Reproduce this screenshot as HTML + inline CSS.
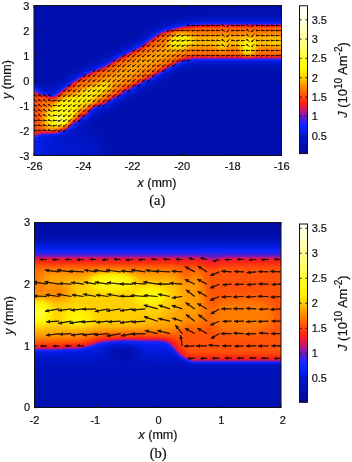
<!DOCTYPE html><html><head><meta charset="utf-8"><style>
html,body{margin:0;padding:0;background:#fff;}
svg{display:block;}
text{font-family:"Liberation Sans",sans-serif;fill:#111;stroke:#111;stroke-width:0.2px;}
.s{font-family:"Liberation Serif",serif;}
</style></head><body>
<svg width="352" height="462" viewBox="0 0 352 462">
<defs>
<filter id="cm" x="0" y="0" width="352" height="462" filterUnits="userSpaceOnUse" color-interpolation-filters="sRGB">
<feGaussianBlur stdDeviation="1.5"/>
<feComponentTransfer>
<feFuncR type="table" tableValues="0.0000 0.0000 0.0000 0.0000 0.0000 0.0000 0.0000 0.0000 0.0000 0.0000 0.0000 0.0000 0.0000 0.0000 0.0000 0.0000 0.0000 0.0000 0.0023 0.0055 0.0086 0.0118 0.0149 0.0181 0.0220 0.0267 0.0315 0.0362 0.0409 0.0456 0.0504 0.0551 0.0678 0.1112 0.1545 0.1978 0.2411 0.2858 0.3351 0.3845 0.4338 0.4832 0.5326 0.5847 0.6381 0.6916 0.7451 0.7937 0.8287 0.8636 0.8986 0.9336 0.9481 0.9569 0.9658 0.9746 0.9819 0.9861 0.9904 0.9946 0.9989 1.0000 1.0000 1.0000 1.0000 1.0000 1.0000 1.0000 1.0000 1.0000 1.0000 1.0000 1.0000 1.0000 1.0000 1.0000 1.0000 1.0000 1.0000 1.0000 1.0000 1.0000 1.0000 1.0000 1.0000 1.0000 1.0000 1.0000 1.0000 1.0000 1.0000 1.0000 1.0000 1.0000 1.0000 1.0000 1.0000 1.0000 1.0000 1.0000 1.0000 1.0000 1.0000 1.0000 1.0000 1.0000 1.0000 1.0000 1.0000 1.0000 1.0000 1.0000 1.0000 1.0000 1.0000 1.0000 1.0000 1.0000 1.0000 1.0000 1.0000 1.0000 1.0000 1.0000 1.0000 1.0000 1.0000 1.0000 1.0000 1.0000 1.0000 1.0000 1.0000 1.0000 1.0000 1.0000 1.0000 1.0000 1.0000 1.0000 1.0000 1.0000 1.0000 1.0000 1.0000 1.0000 1.0000 1.0000 1.0000 1.0000 1.0000 1.0000 1.0000 1.0000 1.0000 1.0000 1.0000 1.0000 1.0000 1.0000"/>
<feFuncG type="table" tableValues="0.0392 0.0421 0.0449 0.0478 0.0506 0.0534 0.0563 0.0591 0.0618 0.0644 0.0671 0.0697 0.0723 0.0750 0.0776 0.0803 0.0829 0.0856 0.0900 0.0950 0.1001 0.1051 0.1101 0.1152 0.1201 0.1248 0.1295 0.1342 0.1389 0.1437 0.1484 0.1531 0.1552 0.1473 0.1395 0.1316 0.1237 0.1168 0.1133 0.1098 0.1063 0.1027 0.0992 0.0980 0.0980 0.0980 0.0980 0.0980 0.0980 0.0980 0.0980 0.0980 0.1084 0.1217 0.1349 0.1482 0.1656 0.1912 0.2167 0.2423 0.2678 0.2908 0.3129 0.3349 0.3570 0.3791 0.4012 0.4232 0.4453 0.4674 0.4921 0.5173 0.5425 0.5677 0.5929 0.6181 0.6449 0.6727 0.7005 0.7283 0.7561 0.7839 0.8117 0.8352 0.8554 0.8756 0.8959 0.9161 0.9364 0.9452 0.9504 0.9557 0.9609 0.9662 0.9714 0.9767 0.9807 0.9820 0.9832 0.9844 0.9856 0.9868 0.9880 0.9892 0.9904 0.9916 0.9929 0.9941 0.9953 0.9965 0.9977 0.9989 1.0000 1.0000 1.0000 1.0000 1.0000 1.0000 1.0000 1.0000 1.0000 1.0000 1.0000 1.0000 1.0000 1.0000 1.0000 1.0000 1.0000 1.0000 1.0000 1.0000 1.0000 1.0000 1.0000 1.0000 1.0000 1.0000 1.0000 1.0000 1.0000 1.0000 1.0000 1.0000 1.0000 1.0000 1.0000 1.0000 1.0000 1.0000 1.0000 1.0000 1.0000 1.0000 1.0000 1.0000 1.0000 1.0000 1.0000 1.0000"/>
<feFuncB type="table" tableValues="0.5882 0.5996 0.6110 0.6224 0.6338 0.6452 0.6565 0.6679 0.6793 0.6906 0.7019 0.7133 0.7246 0.7359 0.7473 0.7586 0.7700 0.7813 0.8005 0.8226 0.8446 0.8666 0.8887 0.9107 0.9264 0.9358 0.9453 0.9547 0.9642 0.9736 0.9831 0.9925 0.9934 0.9619 0.9304 0.8990 0.8675 0.8359 0.8042 0.7724 0.7407 0.7090 0.6773 0.6310 0.5775 0.5241 0.4706 0.4174 0.3649 0.3124 0.2599 0.2074 0.1753 0.1488 0.1223 0.0958 0.0755 0.0670 0.0585 0.0500 0.0415 0.0360 0.0315 0.0271 0.0227 0.0183 0.0139 0.0095 0.0051 0.0006 0.0000 0.0000 0.0000 0.0000 0.0000 0.0000 0.0000 0.0000 0.0000 0.0000 0.0000 0.0000 0.0000 0.0000 0.0000 0.0000 0.0000 0.0000 0.0000 0.0048 0.0111 0.0174 0.0237 0.0300 0.0363 0.0426 0.0530 0.0734 0.0937 0.1141 0.1344 0.1548 0.1751 0.1955 0.2158 0.2362 0.2565 0.2769 0.2972 0.3176 0.3379 0.3583 0.3783 0.3951 0.4119 0.4287 0.4455 0.4622 0.4790 0.4958 0.5126 0.5294 0.5462 0.5630 0.5810 0.5991 0.6172 0.6353 0.6535 0.6716 0.6897 0.7078 0.7259 0.7440 0.7594 0.7747 0.7900 0.8052 0.8205 0.8358 0.8510 0.8663 0.8815 0.8968 0.9107 0.9166 0.9226 0.9286 0.9345 0.9405 0.9464 0.9524 0.9583 0.9643 0.9702 0.9762 0.9821 0.9881 0.9940 1.0000"/>
</feComponentTransfer>
</filter>
<filter id="b1" x="-10%" y="-10%" width="120%" height="120%" color-interpolation-filters="sRGB"><feGaussianBlur stdDeviation="1.4"/></filter>
<filter id="b3" x="-50%" y="-50%" width="200%" height="200%" color-interpolation-filters="sRGB"><feGaussianBlur stdDeviation="3"/></filter>
<filter id="b5" x="-50%" y="-50%" width="200%" height="200%" color-interpolation-filters="sRGB"><feGaussianBlur stdDeviation="5"/></filter>
<filter id="b8" x="-50%" y="-50%" width="200%" height="200%" color-interpolation-filters="sRGB"><feGaussianBlur stdDeviation="8"/></filter>
<filter id="ab" x="-20%" y="-20%" width="140%" height="140%"><feGaussianBlur stdDeviation="0.35"/></filter>
<filter id="tb" x="0" y="0" width="352" height="462" filterUnits="userSpaceOnUse"><feGaussianBlur stdDeviation="0.12"/></filter>
<filter id="gb" x="0" y="0" width="352" height="462" filterUnits="userSpaceOnUse" color-interpolation-filters="sRGB"><feGaussianBlur stdDeviation="0.3"/></filter>
<clipPath id="c1"><rect x="34" y="5.5" width="247.5" height="150"/></clipPath>
<clipPath id="c2"><rect x="34.5" y="222.5" width="246.5" height="185"/></clipPath>

<linearGradient id="g1" x1="0" y1="1" x2="0" y2="0"><stop offset="0.0000" stop-color="rgb(0,10,150)"/><stop offset="0.0433" stop-color="rgb(0,15,170)"/><stop offset="0.1086" stop-color="rgb(0,22,200)"/><stop offset="0.1477" stop-color="rgb(5,30,235)"/><stop offset="0.1999" stop-color="rgb(15,40,255)"/><stop offset="0.2313" stop-color="rgb(70,30,215)"/><stop offset="0.2662" stop-color="rgb(140,25,170)"/><stop offset="0.2939" stop-color="rgb(200,25,110)"/><stop offset="0.3221" stop-color="rgb(240,25,50)"/><stop offset="0.3500" stop-color="rgb(250,40,20)"/><stop offset="0.3790" stop-color="rgb(255,70,10)"/><stop offset="0.4349" stop-color="rgb(255,120,0)"/><stop offset="0.4740" stop-color="rgb(255,160,0)"/><stop offset="0.5184" stop-color="rgb(255,210,0)"/><stop offset="0.5549" stop-color="rgb(255,240,0)"/><stop offset="0.6019" stop-color="rgb(255,250,12)"/><stop offset="0.7037" stop-color="rgb(255,255,96)"/><stop offset="0.7742" stop-color="rgb(255,255,144)"/><stop offset="0.8369" stop-color="rgb(255,255,190)"/><stop offset="0.9047" stop-color="rgb(255,255,232)"/><stop offset="1.0000" stop-color="rgb(255,255,255)"/></linearGradient>
<linearGradient id="g2" x1="0" y1="1" x2="0" y2="0"><stop offset="0.0039" stop-color="rgb(0,10,150)"/><stop offset="0.0505" stop-color="rgb(0,15,170)"/><stop offset="0.1206" stop-color="rgb(0,22,200)"/><stop offset="0.1626" stop-color="rgb(5,30,235)"/><stop offset="0.2187" stop-color="rgb(15,40,255)"/><stop offset="0.2524" stop-color="rgb(70,30,215)"/><stop offset="0.2900" stop-color="rgb(140,25,170)"/><stop offset="0.3197" stop-color="rgb(200,25,110)"/><stop offset="0.3500" stop-color="rgb(240,25,50)"/><stop offset="0.3800" stop-color="rgb(250,40,20)"/><stop offset="0.4111" stop-color="rgb(255,70,10)"/><stop offset="0.4711" stop-color="rgb(255,120,0)"/><stop offset="0.5132" stop-color="rgb(255,160,0)"/><stop offset="0.5609" stop-color="rgb(255,210,0)"/><stop offset="0.6001" stop-color="rgb(255,240,0)"/><stop offset="0.6506" stop-color="rgb(255,250,12)"/><stop offset="0.7600" stop-color="rgb(255,255,96)"/><stop offset="0.8357" stop-color="rgb(255,255,144)"/><stop offset="0.9030" stop-color="rgb(255,255,190)"/><stop offset="0.9759" stop-color="rgb(255,255,232)"/><stop offset="1.0782" stop-color="rgb(255,255,255)"/></linearGradient>
</defs><g filter="url(#gb)"><rect x="0" y="0" width="352" height="462" fill="#fff"/>
<clipPath id="bc1"><polygon points="20.0,93.0 34.0,93.0 41.0,94.5 45.5,94.5 49.0,96.0 53.5,96.8 57.0,94.5 60.5,91.5 68.0,86.0 75.5,80.3 83.0,76.0 90.5,72.2 98.0,69.0 105.5,66.0 113.0,61.0 120.5,56.8 130.0,52.0 140.5,46.8 150.0,40.0 160.5,32.5 170.0,29.5 180.5,26.8 190.0,25.2 200.0,24.4 215.0,24.0 300.0,23.9 300.0,59.0 195.0,59.0 185.0,60.0 174.5,64.8 170.5,67.2 167.0,68.5 160.5,73.0 155.0,75.5 150.0,79.0 145.0,80.8 140.5,83.8 135.0,86.2 130.0,89.5 125.0,91.5 120.5,95.3 116.0,97.0 113.0,99.5 108.0,101.5 105.5,104.2 98.0,106.0 93.0,108.0 90.5,110.5 87.7,114.0 85.5,117.5 82.0,116.0 80.5,119.0 76.4,122.5 74.1,121.5 68.5,128.5 62.0,131.5 56.5,133.5 50.0,134.0 43.5,134.0 34.0,134.5 20.0,134.5"/></clipPath>
<g clip-path="url(#c1)"><g filter="url(#cm)">
<rect x="20" y="-10" width="290" height="180" fill="rgb(13,13,13)"/>
<g filter="url(#b5)"><polygon points="20.0,93.0 34.0,93.0 41.0,94.5 45.5,94.5 49.0,96.0 53.5,96.8 57.0,94.5 60.5,91.5 68.0,86.0 75.5,80.3 83.0,76.0 90.5,72.2 98.0,69.0 105.5,66.0 113.0,61.0 120.5,56.8 130.0,52.0 140.5,46.8 150.0,40.0 160.5,32.5 170.0,29.5 180.5,26.8 190.0,25.2 200.0,24.4 215.0,24.0 300.0,23.9 300.0,59.0 195.0,59.0 185.0,60.0 174.5,64.8 170.5,67.2 167.0,68.5 160.5,73.0 155.0,75.5 150.0,79.0 145.0,80.8 140.5,83.8 135.0,86.2 130.0,89.5 125.0,91.5 120.5,95.3 116.0,97.0 113.0,99.5 108.0,101.5 105.5,104.2 98.0,106.0 93.0,108.0 90.5,110.5 87.7,114.0 85.5,117.5 82.0,116.0 80.5,119.0 76.4,122.5 74.1,121.5 68.5,128.5 62.0,131.5 56.5,133.5 50.0,134.0 43.5,134.0 34.0,134.5 20.0,134.5" fill="rgb(44,44,44)" stroke="rgb(44,44,44)" stroke-width="9"/>
</g><g filter="url(#b8)"><ellipse cx="62" cy="147" rx="42" ry="16" fill="rgb(31,31,31)"/><rect x="20" y="132" width="22" height="30" fill="rgb(44,44,44)"/></g>
<g clip-path="url(#bc1)"><polygon points="20.0,93.0 34.0,93.0 41.0,94.5 45.5,94.5 49.0,96.0 53.5,96.8 57.0,94.5 60.5,91.5 68.0,86.0 75.5,80.3 83.0,76.0 90.5,72.2 98.0,69.0 105.5,66.0 113.0,61.0 120.5,56.8 130.0,52.0 140.5,46.8 150.0,40.0 160.5,32.5 170.0,29.5 180.5,26.8 190.0,25.2 200.0,24.4 215.0,24.0 300.0,23.9 300.0,59.0 195.0,59.0 185.0,60.0 174.5,64.8 170.5,67.2 167.0,68.5 160.5,73.0 155.0,75.5 150.0,79.0 145.0,80.8 140.5,83.8 135.0,86.2 130.0,89.5 125.0,91.5 120.5,95.3 116.0,97.0 113.0,99.5 108.0,101.5 105.5,104.2 98.0,106.0 93.0,108.0 90.5,110.5 87.7,114.0 85.5,117.5 82.0,116.0 80.5,119.0 76.4,122.5 74.1,121.5 68.5,128.5 62.0,131.5 56.5,133.5 50.0,134.0 43.5,134.0 34.0,134.5 20.0,134.5" fill="rgb(107,107,107)" stroke="rgb(84,84,84)" stroke-width="6"/></g>
<g filter="url(#b3)">
<polyline points="44.0,116.0 62.0,111.0 80.0,100.0 100.0,88.0 125.0,74.0 150.0,60.0 175.0,47.0 190.0,41.5 210.0,41.0 300.0,41.0" fill="none" stroke="rgb(122,122,122)" stroke-width="14" stroke-linejoin="round"/>
<polyline points="180.0,43.0 195.0,42.0 210.0,42.0 300.0,42.0" fill="none" stroke="rgb(130,130,130)" stroke-width="8" stroke-linejoin="round"/>
<ellipse cx="60" cy="117" rx="17" ry="9" fill="rgb(157,157,157)" transform="rotate(-28 60 117)"/>
<ellipse cx="52" cy="123" rx="8" ry="5" fill="rgb(141,141,141)"/>
<ellipse cx="66" cy="108" rx="16" ry="9" fill="rgb(154,154,154)" transform="rotate(-32 66 108)"/>
<ellipse cx="86" cy="97" rx="14" ry="8" fill="rgb(144,144,144)" transform="rotate(-32 86 97)"/>
<ellipse cx="248" cy="47" rx="6" ry="8" fill="rgb(157,157,157)"/>
<ellipse cx="180" cy="41" rx="12" ry="7" fill="rgb(148,148,148)" transform="rotate(-12 180 41)"/>
<ellipse cx="222" cy="46" rx="5" ry="5" fill="rgb(138,138,138)"/>
<ellipse cx="275" cy="42" rx="8" ry="5" fill="rgb(134,134,134)"/>
<ellipse cx="100" cy="90" rx="12" ry="5" fill="rgb(144,144,144)" transform="rotate(-30 100 90)"/>
<rect x="20" y="90" width="18" height="46" fill="rgb(94,94,94)"/>
</g>
<ellipse cx="59.5" cy="119.5" rx="4" ry="2.5" fill="rgb(244,244,244)" filter="url(#b3)"/>
</g></g>
<g clip-path="url(#c1)"><g filter="url(#ab)" opacity="0.88"><path d="M36.9 96.3L33.5 94.7 M36.8 101.4L33.6 99.6 M36.9 106.3L33.5 104.7 M36.8 111.4L33.6 109.6 M36.8 116.4L33.6 114.6 M37.0 120.7L33.4 120.3 M37.0 125.7L33.4 125.3 M37.0 131.0L33.4 130.0 M41.8 96.3L38.5 94.7 M41.8 101.3L38.5 99.7 M41.7 106.6L38.6 104.4 M41.8 111.4L38.5 109.6 M41.7 116.5L38.6 114.5 M42.0 120.9L38.3 120.1 M41.9 125.9L38.4 125.1 M42.0 130.7L38.3 130.3 M46.7 96.4L43.5 94.6 M46.6 101.5L43.6 99.5 M46.7 106.4L43.5 104.6 M46.7 111.5L43.5 109.5 M46.7 116.4L43.5 114.6 M46.9 120.7L43.3 120.3 M46.9 126.0L43.3 125.0 M46.9 130.9L43.3 130.1 M51.4 96.1L48.7 94.9 M51.8 101.2L48.3 99.8 M51.6 106.5L48.5 104.5 M51.7 111.4L48.4 109.6 M51.6 116.5L48.5 114.5 M51.8 121.1L48.3 119.9 M51.8 126.0L48.3 125.0 M51.8 131.1L48.3 129.9 M56.8 100.2L53.2 100.8 M56.8 105.4L53.2 105.6 M56.8 110.2L53.2 110.8 M56.8 115.5L53.2 115.5 M56.8 120.4L53.2 120.6 M56.8 125.1L53.2 125.9 M56.8 130.1L53.2 130.9 M61.6 94.6L58.3 96.4 M61.7 99.9L58.2 101.1 M61.6 104.7L58.3 106.3 M61.7 109.8L58.2 111.2 M61.6 114.6L58.3 116.4 M61.6 119.7L58.3 121.3 M61.6 124.7L58.3 126.3 M61.6 129.7L58.3 131.3 M66.4 89.4L63.4 91.6 M66.4 94.4L63.4 96.6 M66.5 99.6L63.3 101.4 M66.4 104.5L63.4 106.5 M66.5 109.6L63.3 111.4 M66.5 114.5L63.3 116.5 M66.5 119.6L63.3 121.4 M66.4 124.5L63.4 126.5 M66.3 129.3L63.5 131.7 M71.1 84.7L68.6 86.3 M71.5 89.6L68.2 91.4 M71.4 94.6L68.3 96.4 M71.4 99.4L68.3 101.6 M71.4 104.5L68.3 106.5 M71.3 109.3L68.4 111.7 M71.4 114.5L68.3 116.5 M71.4 119.4L68.3 121.6 M71.3 124.3L68.4 126.7 M76.2 84.3L73.4 86.7 M76.4 89.5L73.2 91.5 M76.4 94.6L73.2 96.4 M76.2 99.3L73.4 101.7 M76.4 104.5L73.2 106.5 M76.3 109.4L73.3 111.6 M76.2 114.3L73.4 116.7 M76.2 119.3L73.4 121.7 M81.3 79.5L78.2 81.5 M81.3 84.6L78.2 86.4 M81.1 89.3L78.4 91.7 M81.3 94.5L78.2 96.5 M81.1 99.3L78.4 101.7 M81.3 104.5L78.2 106.5 M81.2 109.4L78.3 111.6 M81.3 114.6L78.2 116.4 M81.4 119.6L78.1 121.4 M85.9 74.6L83.5 76.4 M86.3 79.6L83.1 81.4 M86.1 84.3L83.3 86.7 M86.1 89.3L83.3 91.7 M86.2 94.4L83.2 96.6 M86.1 99.2L83.3 101.8 M86.1 104.3L83.3 106.7 M86.2 109.4L83.2 111.6 M86.2 114.5L83.2 116.5 M91.1 74.3L88.2 76.7 M91.0 79.3L88.3 81.7 M91.2 84.6L88.1 86.4 M91.1 89.3L88.2 91.7 M91.3 94.6L88.0 96.4 M91.2 99.6L88.1 101.4 M91.1 104.4L88.2 106.6 M91.1 109.4L88.2 111.6 M95.8 69.6L93.4 71.4 M96.1 74.5L93.1 76.5 M96.1 79.4L93.1 81.6 M96.1 84.4L93.1 86.6 M96.1 89.5L93.1 91.5 M96.2 94.6L93.0 96.4 M96.1 99.4L93.1 101.6 M96.1 104.4L93.1 106.6 M101.1 69.5L98.0 71.5 M101.0 74.3L98.1 76.7 M101.0 79.3L98.1 81.7 M101.2 84.6L97.9 86.4 M101.1 89.4L98.0 91.6 M101.1 94.4L98.0 96.6 M100.9 99.2L98.2 101.8 M101.0 104.4L98.1 106.6 M106.0 69.4L103.0 71.6 M105.9 74.2L103.1 76.8 M106.0 79.5L103.0 81.5 M106.0 84.5L103.0 86.5 M105.9 89.3L103.1 91.7 M106.0 94.5L103.0 96.5 M106.0 99.4L103.0 101.6 M105.8 104.7L103.2 106.3 M110.9 64.4L108.0 66.6 M111.0 69.5L107.9 71.5 M111.0 74.5L107.9 76.5 M110.8 79.2L108.1 81.8 M110.8 84.3L108.1 86.7 M111.0 89.5L107.9 91.5 M111.1 94.6L107.8 96.4 M110.9 99.3L108.0 101.7 M115.6 59.6L113.2 61.4 M115.9 64.4L112.9 66.6 M115.8 69.3L113.0 71.7 M115.9 74.4L112.9 76.6 M115.8 79.3L113.0 81.7 M115.9 84.4L112.9 86.6 M115.9 89.4L112.9 91.6 M115.8 94.3L113.0 96.7 M120.8 59.4L117.9 61.6 M120.9 64.5L117.8 66.5 M120.7 69.2L118.0 71.8 M120.9 74.4L117.8 76.6 M120.9 79.5L117.8 81.5 M120.8 84.3L117.9 86.7 M120.8 89.3L117.9 91.7 M120.9 94.5L117.8 96.5 M125.7 54.3L122.9 56.7 M125.7 59.3L122.9 61.7 M125.8 64.4L122.8 66.6 M125.8 69.5L122.8 71.5 M125.7 74.3L122.9 76.7 M125.7 79.3L122.9 81.7 M125.8 84.4L122.8 86.6 M125.9 89.5L122.7 91.5 M130.7 54.4L127.8 56.6 M130.8 59.5L127.7 61.5 M130.7 64.3L127.8 66.7 M130.7 69.4L127.8 71.6 M130.8 74.5L127.7 76.5 M130.8 79.6L127.7 81.4 M130.7 84.4L127.8 86.6 M130.4 89.5L128.1 91.5 M135.3 49.5L133.1 51.5 M135.7 54.4L132.7 56.6 M135.6 59.3L132.8 61.7 M135.8 64.5L132.6 66.5 M135.8 69.5L132.6 71.5 M135.6 74.3L132.8 76.7 M135.6 79.3L132.8 81.7 M135.8 84.5L132.6 86.5 M140.7 49.5L137.6 51.5 M140.7 54.5L137.6 56.5 M140.6 59.4L137.7 61.6 M140.5 64.3L137.8 66.7 M140.6 69.3L137.7 71.7 M140.7 74.5L137.6 76.5 M140.6 79.3L137.7 81.7 M140.3 84.6L138.0 86.4 M145.6 44.4L142.6 46.6 M145.6 49.4L142.6 51.6 M145.6 54.4L142.6 56.6 M145.7 59.6L142.5 61.4 M145.5 64.3L142.7 66.7 M145.5 69.2L142.7 71.8 M145.7 74.6L142.5 76.4 M145.7 79.6L142.5 81.4 M150.7 44.6L147.4 46.4 M150.5 49.4L147.6 51.6 M150.7 54.6L147.4 56.4 M150.7 59.6L147.4 61.4 M150.5 64.3L147.6 66.7 M150.6 69.5L147.5 71.5 M150.6 74.5L147.5 76.5 M150.3 79.7L147.8 81.3 M155.5 39.4L152.5 41.6 M155.4 44.3L152.6 46.7 M155.5 49.4L152.5 51.6 M155.4 54.3L152.6 56.7 M155.4 59.3L152.6 61.7 M155.5 64.4L152.5 66.6 M155.4 69.3L152.6 71.7 M155.6 74.5L152.4 76.5 M160.3 34.3L157.6 36.7 M160.5 39.6L157.4 41.4 M160.5 44.5L157.4 46.5 M160.6 49.6L157.3 51.4 M160.5 54.6L157.4 56.4 M160.5 59.6L157.4 61.4 M160.5 64.4L157.4 66.6 M160.3 69.2L157.6 71.8 M165.5 34.6L162.3 36.4 M165.3 39.3L162.5 41.7 M165.3 44.3L162.5 46.7 M165.4 49.5L162.4 51.5 M165.4 54.4L162.4 56.6 M165.4 59.4L162.4 61.6 M165.5 64.6L162.3 66.4 M165.4 69.5L162.4 71.5 M170.5 29.7L167.2 31.3 M170.5 34.6L167.2 36.4 M170.5 39.7L167.2 41.3 M170.4 44.5L167.3 46.5 M170.4 49.5L167.3 51.5 M170.3 54.4L167.4 56.6 M170.3 59.3L167.4 61.7 M170.4 64.4L167.3 66.6 M175.6 30.1L172.0 30.9 M175.5 34.7L172.1 36.3 M175.5 39.9L172.1 41.1 M175.5 44.8L172.1 46.2 M175.5 49.7L172.1 51.3 M175.4 54.6L172.2 56.4 M175.2 59.2L172.4 61.8 M175.3 64.5L172.3 66.5 M180.6 30.4L176.9 30.6 M180.5 34.9L177.0 36.1 M180.5 39.9L177.0 41.1 M180.4 44.8L177.1 46.2 M180.4 49.8L177.1 51.2 M180.4 54.6L177.1 56.4 M180.3 59.5L177.2 61.5 M185.5 30.5L181.9 30.5 M185.5 35.1L181.9 35.9 M185.5 40.0L181.9 41.0 M185.4 44.9L182.0 46.1 M185.4 49.8L182.0 51.2 M185.3 54.7L182.1 56.3 M185.5 59.9L181.9 61.1 M190.1 25.6L187.2 25.4 M190.2 30.3L187.1 30.7 M190.2 35.5L187.1 35.5 M190.2 40.3L187.1 40.7 M190.2 45.2L187.1 45.8 M190.2 50.1L187.1 50.9 M190.2 55.2L187.1 55.8 M190.1 60.1L187.2 60.9 M195.2 25.4L192.0 25.6 M195.2 30.4L192.0 30.6 M195.2 35.4L192.0 35.6 M195.2 40.4L192.0 40.6 M195.2 45.5L192.0 45.5 M195.2 50.5L192.0 50.5 M195.2 55.2L192.0 55.8 M200.1 25.3L197.0 25.7 M200.1 30.4L197.0 30.6 M200.1 35.5L197.0 35.5 M200.1 40.5L197.0 40.5 M200.1 45.6L197.0 45.4 M200.1 50.5L197.0 50.5 M200.1 55.6L197.0 55.4 M205.1 25.5L201.9 25.5 M205.1 30.5L201.9 30.5 M205.1 35.5L201.9 35.5 M205.1 40.5L201.9 40.5 M205.1 45.6L201.9 45.4 M205.1 50.5L201.9 50.5 M205.1 55.6L201.9 55.4 M210.0 25.5L206.9 25.5 M210.0 30.4L206.9 30.6 M210.0 35.5L206.9 35.5 M210.0 40.6L206.9 40.4 M210.0 45.3L206.9 45.7 M210.0 50.5L206.9 50.5 M210.0 55.5L206.9 55.5 M215.0 25.6L211.8 25.4 M215.0 30.7L211.8 30.3 M215.0 35.5L211.8 35.5 M215.0 40.7L211.8 40.3 M215.0 45.6L211.8 45.4 M215.0 50.4L211.8 50.6 M215.0 55.5L211.8 55.5 M219.9 25.4L216.8 25.6 M219.9 30.6L216.8 30.4 M219.9 35.6L216.8 35.4 M219.9 40.7L216.8 40.3 M219.9 45.6L216.8 45.4 M219.9 50.6L216.8 50.4 M219.9 55.6L216.8 55.4 M224.5 26.5L222.1 24.5 M224.6 31.4L222.0 29.6 M224.5 36.6L222.1 34.4 M224.6 41.4L222.0 39.6 M224.6 46.4L222.0 44.6 M224.9 50.6L221.7 50.4 M224.9 55.3L221.7 55.7 M229.4 24.4L227.1 26.6 M229.4 29.4L227.1 31.6 M229.6 34.6L226.9 36.4 M229.4 39.4L227.1 41.6 M229.3 44.3L227.2 46.7 M229.8 50.6L226.7 50.4 M229.8 55.4L226.7 55.6 M234.8 25.6L231.6 25.4 M234.8 30.6L231.6 30.4 M234.8 35.6L231.6 35.4 M234.8 40.7L231.6 40.3 M234.8 45.5L231.6 45.5 M234.8 50.6L231.6 50.4 M234.8 55.3L231.6 55.7 M239.7 25.6L236.6 25.4 M239.7 30.5L236.6 30.5 M239.7 35.6L236.6 35.4 M239.7 40.3L236.6 40.7 M239.7 45.6L236.6 45.4 M239.7 50.7L236.6 50.3 M239.7 55.3L236.6 55.7 M244.7 25.4L241.5 25.6 M244.7 30.5L241.5 30.5 M244.7 35.6L241.5 35.4 M244.7 40.4L241.5 40.6 M244.7 45.4L241.5 45.6 M244.7 50.4L241.5 50.6 M244.7 55.5L241.5 55.5 M249.2 26.6L246.9 24.4 M249.3 31.5L246.8 29.5 M249.3 36.5L246.8 34.5 M249.3 41.5L246.8 39.5 M249.3 46.5L246.8 44.5 M249.6 50.5L246.5 50.5 M249.6 55.3L246.5 55.7 M254.2 24.5L251.8 26.5 M254.3 29.6L251.7 31.4 M254.2 34.4L251.8 36.6 M254.3 39.5L251.7 41.5 M254.1 44.4L251.9 46.6 M254.6 50.6L251.4 50.4 M254.6 55.6L251.4 55.4 M259.5 25.6L256.4 25.4 M259.5 30.5L256.4 30.5 M259.5 35.5L256.4 35.5 M259.5 40.6L256.4 40.4 M259.5 45.7L256.4 45.3 M259.5 50.4L256.4 50.6 M259.5 55.3L256.4 55.7 M264.5 25.6L261.3 25.4 M264.5 30.7L261.3 30.3 M264.5 35.5L261.3 35.5 M264.5 40.5L261.3 40.5 M264.5 45.6L261.3 45.4 M264.5 50.4L261.3 50.6 M264.5 55.4L261.3 55.6 M269.4 25.4L266.3 25.6 M269.4 30.5L266.3 30.5 M269.4 35.4L266.3 35.6 M269.4 40.4L266.3 40.6 M269.4 45.6L266.3 45.4 M269.4 50.7L266.3 50.3 M269.4 55.4L266.3 55.6 M274.4 25.6L271.2 25.4 M274.4 30.5L271.2 30.5 M274.4 35.6L271.2 35.4 M274.4 40.5L271.2 40.5 M274.4 45.4L271.2 45.6 M274.4 50.4L271.2 50.6 M274.4 55.3L271.2 55.7 M279.3 25.5L276.2 25.5 M279.3 30.5L276.2 30.5 M279.3 35.4L276.2 35.6 M279.3 40.4L276.2 40.6 M279.3 45.4L276.2 45.6 M279.3 50.6L276.2 50.4 M279.3 55.4L276.2 55.6 M284.3 25.7L281.1 25.3 M284.3 30.5L281.1 30.5 M284.3 35.5L281.1 35.5 M284.3 40.5L281.1 40.5 M284.3 45.6L281.1 45.4 M284.3 50.6L281.1 50.4 M284.3 55.5L281.1 55.5 M39.3 137.5L39.5 138.1 M39.3 141.5L39.5 142.1 M39.3 145.5L39.5 146.1" stroke="#120606" stroke-width="0.95" stroke-linecap="round" fill="none"/><path d="M34.0 95.0m-0.9 0a0.9 0.9 0 1 0 1.8 0a0.9 0.9 0 1 0 -1.8 0 M34.1 99.9m-0.9 0a0.9 0.9 0 1 0 1.8 0a0.9 0.9 0 1 0 -1.8 0 M34.0 104.9m-0.9 0a0.9 0.9 0 1 0 1.8 0a0.9 0.9 0 1 0 -1.8 0 M34.1 109.9m-0.9 0a0.9 0.9 0 1 0 1.8 0a0.9 0.9 0 1 0 -1.8 0 M34.1 114.9m-0.9 0a0.9 0.9 0 1 0 1.8 0a0.9 0.9 0 1 0 -1.8 0 M33.9 120.4m-0.9 0a0.9 0.9 0 1 0 1.8 0a0.9 0.9 0 1 0 -1.8 0 M33.9 125.4m-0.9 0a0.9 0.9 0 1 0 1.8 0a0.9 0.9 0 1 0 -1.8 0 M34.0 130.1m-0.9 0a0.9 0.9 0 1 0 1.8 0a0.9 0.9 0 1 0 -1.8 0 M39.0 95.0m-0.9 0a0.9 0.9 0 1 0 1.8 0a0.9 0.9 0 1 0 -1.8 0 M39.0 100.0m-0.9 0a0.9 0.9 0 1 0 1.8 0a0.9 0.9 0 1 0 -1.8 0 M39.1 104.8m-0.9 0a0.9 0.9 0 1 0 1.8 0a0.9 0.9 0 1 0 -1.8 0 M39.0 109.9m-0.9 0a0.9 0.9 0 1 0 1.8 0a0.9 0.9 0 1 0 -1.8 0 M39.1 114.8m-0.9 0a0.9 0.9 0 1 0 1.8 0a0.9 0.9 0 1 0 -1.8 0 M38.9 120.2m-0.9 0a0.9 0.9 0 1 0 1.8 0a0.9 0.9 0 1 0 -1.8 0 M38.9 125.2m-0.9 0a0.9 0.9 0 1 0 1.8 0a0.9 0.9 0 1 0 -1.8 0 M38.9 130.3m-0.9 0a0.9 0.9 0 1 0 1.8 0a0.9 0.9 0 1 0 -1.8 0 M44.0 94.9m-0.9 0a0.9 0.9 0 1 0 1.8 0a0.9 0.9 0 1 0 -1.8 0 M44.0 99.8m-0.9 0a0.9 0.9 0 1 0 1.8 0a0.9 0.9 0 1 0 -1.8 0 M44.0 104.9m-0.9 0a0.9 0.9 0 1 0 1.8 0a0.9 0.9 0 1 0 -1.8 0 M44.0 109.8m-0.9 0a0.9 0.9 0 1 0 1.8 0a0.9 0.9 0 1 0 -1.8 0 M44.0 114.8m-0.9 0a0.9 0.9 0 1 0 1.8 0a0.9 0.9 0 1 0 -1.8 0 M43.8 120.4m-0.9 0a0.9 0.9 0 1 0 1.8 0a0.9 0.9 0 1 0 -1.8 0 M43.9 125.2m-0.9 0a0.9 0.9 0 1 0 1.8 0a0.9 0.9 0 1 0 -1.8 0 M43.8 130.2m-0.9 0a0.9 0.9 0 1 0 1.8 0a0.9 0.9 0 1 0 -1.8 0 M49.1 95.1m-0.9 0a0.9 0.9 0 1 0 1.8 0a0.9 0.9 0 1 0 -1.8 0 M48.8 100.0m-0.9 0a0.9 0.9 0 1 0 1.8 0a0.9 0.9 0 1 0 -1.8 0 M49.0 104.8m-0.9 0a0.9 0.9 0 1 0 1.8 0a0.9 0.9 0 1 0 -1.8 0 M48.9 109.9m-0.9 0a0.9 0.9 0 1 0 1.8 0a0.9 0.9 0 1 0 -1.8 0 M48.9 114.8m-0.9 0a0.9 0.9 0 1 0 1.8 0a0.9 0.9 0 1 0 -1.8 0 M48.8 120.1m-0.9 0a0.9 0.9 0 1 0 1.8 0a0.9 0.9 0 1 0 -1.8 0 M48.8 125.2m-0.9 0a0.9 0.9 0 1 0 1.8 0a0.9 0.9 0 1 0 -1.8 0 M48.8 130.1m-0.9 0a0.9 0.9 0 1 0 1.8 0a0.9 0.9 0 1 0 -1.8 0 M53.7 100.7m-0.9 0a0.9 0.9 0 1 0 1.8 0a0.9 0.9 0 1 0 -1.8 0 M53.7 105.6m-0.9 0a0.9 0.9 0 1 0 1.8 0a0.9 0.9 0 1 0 -1.8 0 M53.7 110.7m-0.9 0a0.9 0.9 0 1 0 1.8 0a0.9 0.9 0 1 0 -1.8 0 M53.7 115.5m-0.9 0a0.9 0.9 0 1 0 1.8 0a0.9 0.9 0 1 0 -1.8 0 M53.7 120.5m-0.9 0a0.9 0.9 0 1 0 1.8 0a0.9 0.9 0 1 0 -1.8 0 M53.7 125.8m-0.9 0a0.9 0.9 0 1 0 1.8 0a0.9 0.9 0 1 0 -1.8 0 M53.7 130.8m-0.9 0a0.9 0.9 0 1 0 1.8 0a0.9 0.9 0 1 0 -1.8 0 M58.8 96.1m-0.9 0a0.9 0.9 0 1 0 1.8 0a0.9 0.9 0 1 0 -1.8 0 M58.7 100.9m-0.9 0a0.9 0.9 0 1 0 1.8 0a0.9 0.9 0 1 0 -1.8 0 M58.8 106.1m-0.9 0a0.9 0.9 0 1 0 1.8 0a0.9 0.9 0 1 0 -1.8 0 M58.8 111.0m-0.9 0a0.9 0.9 0 1 0 1.8 0a0.9 0.9 0 1 0 -1.8 0 M58.8 116.1m-0.9 0a0.9 0.9 0 1 0 1.8 0a0.9 0.9 0 1 0 -1.8 0 M58.8 121.0m-0.9 0a0.9 0.9 0 1 0 1.8 0a0.9 0.9 0 1 0 -1.8 0 M58.8 126.1m-0.9 0a0.9 0.9 0 1 0 1.8 0a0.9 0.9 0 1 0 -1.8 0 M58.8 131.1m-0.9 0a0.9 0.9 0 1 0 1.8 0a0.9 0.9 0 1 0 -1.8 0 M63.8 91.2m-0.9 0a0.9 0.9 0 1 0 1.8 0a0.9 0.9 0 1 0 -1.8 0 M63.8 96.2m-0.9 0a0.9 0.9 0 1 0 1.8 0a0.9 0.9 0 1 0 -1.8 0 M63.8 101.2m-0.9 0a0.9 0.9 0 1 0 1.8 0a0.9 0.9 0 1 0 -1.8 0 M63.8 106.2m-0.9 0a0.9 0.9 0 1 0 1.8 0a0.9 0.9 0 1 0 -1.8 0 M63.8 111.1m-0.9 0a0.9 0.9 0 1 0 1.8 0a0.9 0.9 0 1 0 -1.8 0 M63.8 116.2m-0.9 0a0.9 0.9 0 1 0 1.8 0a0.9 0.9 0 1 0 -1.8 0 M63.8 121.1m-0.9 0a0.9 0.9 0 1 0 1.8 0a0.9 0.9 0 1 0 -1.8 0 M63.8 126.2m-0.9 0a0.9 0.9 0 1 0 1.8 0a0.9 0.9 0 1 0 -1.8 0 M63.9 131.3m-0.9 0a0.9 0.9 0 1 0 1.8 0a0.9 0.9 0 1 0 -1.8 0 M68.9 86.0m-0.9 0a0.9 0.9 0 1 0 1.8 0a0.9 0.9 0 1 0 -1.8 0 M68.7 91.1m-0.9 0a0.9 0.9 0 1 0 1.8 0a0.9 0.9 0 1 0 -1.8 0 M68.7 96.2m-0.9 0a0.9 0.9 0 1 0 1.8 0a0.9 0.9 0 1 0 -1.8 0 M68.8 101.2m-0.9 0a0.9 0.9 0 1 0 1.8 0a0.9 0.9 0 1 0 -1.8 0 M68.8 106.2m-0.9 0a0.9 0.9 0 1 0 1.8 0a0.9 0.9 0 1 0 -1.8 0 M68.9 111.3m-0.9 0a0.9 0.9 0 1 0 1.8 0a0.9 0.9 0 1 0 -1.8 0 M68.7 116.2m-0.9 0a0.9 0.9 0 1 0 1.8 0a0.9 0.9 0 1 0 -1.8 0 M68.8 121.2m-0.9 0a0.9 0.9 0 1 0 1.8 0a0.9 0.9 0 1 0 -1.8 0 M68.8 126.3m-0.9 0a0.9 0.9 0 1 0 1.8 0a0.9 0.9 0 1 0 -1.8 0 M73.8 86.4m-0.9 0a0.9 0.9 0 1 0 1.8 0a0.9 0.9 0 1 0 -1.8 0 M73.7 91.2m-0.9 0a0.9 0.9 0 1 0 1.8 0a0.9 0.9 0 1 0 -1.8 0 M73.7 96.1m-0.9 0a0.9 0.9 0 1 0 1.8 0a0.9 0.9 0 1 0 -1.8 0 M73.8 101.4m-0.9 0a0.9 0.9 0 1 0 1.8 0a0.9 0.9 0 1 0 -1.8 0 M73.7 106.2m-0.9 0a0.9 0.9 0 1 0 1.8 0a0.9 0.9 0 1 0 -1.8 0 M73.8 111.3m-0.9 0a0.9 0.9 0 1 0 1.8 0a0.9 0.9 0 1 0 -1.8 0 M73.8 116.3m-0.9 0a0.9 0.9 0 1 0 1.8 0a0.9 0.9 0 1 0 -1.8 0 M73.8 121.3m-0.9 0a0.9 0.9 0 1 0 1.8 0a0.9 0.9 0 1 0 -1.8 0 M78.7 81.2m-0.9 0a0.9 0.9 0 1 0 1.8 0a0.9 0.9 0 1 0 -1.8 0 M78.6 86.2m-0.9 0a0.9 0.9 0 1 0 1.8 0a0.9 0.9 0 1 0 -1.8 0 M78.8 91.4m-0.9 0a0.9 0.9 0 1 0 1.8 0a0.9 0.9 0 1 0 -1.8 0 M78.7 96.2m-0.9 0a0.9 0.9 0 1 0 1.8 0a0.9 0.9 0 1 0 -1.8 0 M78.8 101.4m-0.9 0a0.9 0.9 0 1 0 1.8 0a0.9 0.9 0 1 0 -1.8 0 M78.7 106.2m-0.9 0a0.9 0.9 0 1 0 1.8 0a0.9 0.9 0 1 0 -1.8 0 M78.7 111.3m-0.9 0a0.9 0.9 0 1 0 1.8 0a0.9 0.9 0 1 0 -1.8 0 M78.6 116.2m-0.9 0a0.9 0.9 0 1 0 1.8 0a0.9 0.9 0 1 0 -1.8 0 M78.6 121.1m-0.9 0a0.9 0.9 0 1 0 1.8 0a0.9 0.9 0 1 0 -1.8 0 M83.8 76.1m-0.9 0a0.9 0.9 0 1 0 1.8 0a0.9 0.9 0 1 0 -1.8 0 M83.6 81.1m-0.9 0a0.9 0.9 0 1 0 1.8 0a0.9 0.9 0 1 0 -1.8 0 M83.7 86.3m-0.9 0a0.9 0.9 0 1 0 1.8 0a0.9 0.9 0 1 0 -1.8 0 M83.7 91.4m-0.9 0a0.9 0.9 0 1 0 1.8 0a0.9 0.9 0 1 0 -1.8 0 M83.6 96.2m-0.9 0a0.9 0.9 0 1 0 1.8 0a0.9 0.9 0 1 0 -1.8 0 M83.7 101.4m-0.9 0a0.9 0.9 0 1 0 1.8 0a0.9 0.9 0 1 0 -1.8 0 M83.7 106.3m-0.9 0a0.9 0.9 0 1 0 1.8 0a0.9 0.9 0 1 0 -1.8 0 M83.7 111.3m-0.9 0a0.9 0.9 0 1 0 1.8 0a0.9 0.9 0 1 0 -1.8 0 M83.6 116.2m-0.9 0a0.9 0.9 0 1 0 1.8 0a0.9 0.9 0 1 0 -1.8 0 M88.7 76.3m-0.9 0a0.9 0.9 0 1 0 1.8 0a0.9 0.9 0 1 0 -1.8 0 M88.7 81.4m-0.9 0a0.9 0.9 0 1 0 1.8 0a0.9 0.9 0 1 0 -1.8 0 M88.5 86.2m-0.9 0a0.9 0.9 0 1 0 1.8 0a0.9 0.9 0 1 0 -1.8 0 M88.6 91.3m-0.9 0a0.9 0.9 0 1 0 1.8 0a0.9 0.9 0 1 0 -1.8 0 M88.5 96.1m-0.9 0a0.9 0.9 0 1 0 1.8 0a0.9 0.9 0 1 0 -1.8 0 M88.5 101.2m-0.9 0a0.9 0.9 0 1 0 1.8 0a0.9 0.9 0 1 0 -1.8 0 M88.6 106.3m-0.9 0a0.9 0.9 0 1 0 1.8 0a0.9 0.9 0 1 0 -1.8 0 M88.6 111.3m-0.9 0a0.9 0.9 0 1 0 1.8 0a0.9 0.9 0 1 0 -1.8 0 M93.7 71.1m-0.9 0a0.9 0.9 0 1 0 1.8 0a0.9 0.9 0 1 0 -1.8 0 M93.5 76.2m-0.9 0a0.9 0.9 0 1 0 1.8 0a0.9 0.9 0 1 0 -1.8 0 M93.5 81.2m-0.9 0a0.9 0.9 0 1 0 1.8 0a0.9 0.9 0 1 0 -1.8 0 M93.5 86.2m-0.9 0a0.9 0.9 0 1 0 1.8 0a0.9 0.9 0 1 0 -1.8 0 M93.5 91.2m-0.9 0a0.9 0.9 0 1 0 1.8 0a0.9 0.9 0 1 0 -1.8 0 M93.5 96.1m-0.9 0a0.9 0.9 0 1 0 1.8 0a0.9 0.9 0 1 0 -1.8 0 M93.6 101.3m-0.9 0a0.9 0.9 0 1 0 1.8 0a0.9 0.9 0 1 0 -1.8 0 M93.6 106.3m-0.9 0a0.9 0.9 0 1 0 1.8 0a0.9 0.9 0 1 0 -1.8 0 M98.5 71.2m-0.9 0a0.9 0.9 0 1 0 1.8 0a0.9 0.9 0 1 0 -1.8 0 M98.6 76.3m-0.9 0a0.9 0.9 0 1 0 1.8 0a0.9 0.9 0 1 0 -1.8 0 M98.5 81.3m-0.9 0a0.9 0.9 0 1 0 1.8 0a0.9 0.9 0 1 0 -1.8 0 M98.4 86.1m-0.9 0a0.9 0.9 0 1 0 1.8 0a0.9 0.9 0 1 0 -1.8 0 M98.5 91.3m-0.9 0a0.9 0.9 0 1 0 1.8 0a0.9 0.9 0 1 0 -1.8 0 M98.5 96.2m-0.9 0a0.9 0.9 0 1 0 1.8 0a0.9 0.9 0 1 0 -1.8 0 M98.6 101.4m-0.9 0a0.9 0.9 0 1 0 1.8 0a0.9 0.9 0 1 0 -1.8 0 M98.5 106.3m-0.9 0a0.9 0.9 0 1 0 1.8 0a0.9 0.9 0 1 0 -1.8 0 M103.4 71.2m-0.9 0a0.9 0.9 0 1 0 1.8 0a0.9 0.9 0 1 0 -1.8 0 M103.5 76.4m-0.9 0a0.9 0.9 0 1 0 1.8 0a0.9 0.9 0 1 0 -1.8 0 M103.4 81.2m-0.9 0a0.9 0.9 0 1 0 1.8 0a0.9 0.9 0 1 0 -1.8 0 M103.4 86.2m-0.9 0a0.9 0.9 0 1 0 1.8 0a0.9 0.9 0 1 0 -1.8 0 M103.5 91.4m-0.9 0a0.9 0.9 0 1 0 1.8 0a0.9 0.9 0 1 0 -1.8 0 M103.4 96.2m-0.9 0a0.9 0.9 0 1 0 1.8 0a0.9 0.9 0 1 0 -1.8 0 M103.5 101.3m-0.9 0a0.9 0.9 0 1 0 1.8 0a0.9 0.9 0 1 0 -1.8 0 M103.6 106.1m-0.9 0a0.9 0.9 0 1 0 1.8 0a0.9 0.9 0 1 0 -1.8 0 M108.4 66.3m-0.9 0a0.9 0.9 0 1 0 1.8 0a0.9 0.9 0 1 0 -1.8 0 M108.4 71.2m-0.9 0a0.9 0.9 0 1 0 1.8 0a0.9 0.9 0 1 0 -1.8 0 M108.4 76.2m-0.9 0a0.9 0.9 0 1 0 1.8 0a0.9 0.9 0 1 0 -1.8 0 M108.5 81.4m-0.9 0a0.9 0.9 0 1 0 1.8 0a0.9 0.9 0 1 0 -1.8 0 M108.5 86.4m-0.9 0a0.9 0.9 0 1 0 1.8 0a0.9 0.9 0 1 0 -1.8 0 M108.4 91.2m-0.9 0a0.9 0.9 0 1 0 1.8 0a0.9 0.9 0 1 0 -1.8 0 M108.3 96.1m-0.9 0a0.9 0.9 0 1 0 1.8 0a0.9 0.9 0 1 0 -1.8 0 M108.5 101.3m-0.9 0a0.9 0.9 0 1 0 1.8 0a0.9 0.9 0 1 0 -1.8 0 M113.6 61.1m-0.9 0a0.9 0.9 0 1 0 1.8 0a0.9 0.9 0 1 0 -1.8 0 M113.3 66.2m-0.9 0a0.9 0.9 0 1 0 1.8 0a0.9 0.9 0 1 0 -1.8 0 M113.4 71.3m-0.9 0a0.9 0.9 0 1 0 1.8 0a0.9 0.9 0 1 0 -1.8 0 M113.4 76.3m-0.9 0a0.9 0.9 0 1 0 1.8 0a0.9 0.9 0 1 0 -1.8 0 M113.4 81.3m-0.9 0a0.9 0.9 0 1 0 1.8 0a0.9 0.9 0 1 0 -1.8 0 M113.4 86.3m-0.9 0a0.9 0.9 0 1 0 1.8 0a0.9 0.9 0 1 0 -1.8 0 M113.3 91.2m-0.9 0a0.9 0.9 0 1 0 1.8 0a0.9 0.9 0 1 0 -1.8 0 M113.4 96.3m-0.9 0a0.9 0.9 0 1 0 1.8 0a0.9 0.9 0 1 0 -1.8 0 M118.3 61.3m-0.9 0a0.9 0.9 0 1 0 1.8 0a0.9 0.9 0 1 0 -1.8 0 M118.3 66.2m-0.9 0a0.9 0.9 0 1 0 1.8 0a0.9 0.9 0 1 0 -1.8 0 M118.4 71.4m-0.9 0a0.9 0.9 0 1 0 1.8 0a0.9 0.9 0 1 0 -1.8 0 M118.3 76.2m-0.9 0a0.9 0.9 0 1 0 1.8 0a0.9 0.9 0 1 0 -1.8 0 M118.3 81.2m-0.9 0a0.9 0.9 0 1 0 1.8 0a0.9 0.9 0 1 0 -1.8 0 M118.3 86.3m-0.9 0a0.9 0.9 0 1 0 1.8 0a0.9 0.9 0 1 0 -1.8 0 M118.4 91.3m-0.9 0a0.9 0.9 0 1 0 1.8 0a0.9 0.9 0 1 0 -1.8 0 M118.2 96.2m-0.9 0a0.9 0.9 0 1 0 1.8 0a0.9 0.9 0 1 0 -1.8 0 M123.3 56.3m-0.9 0a0.9 0.9 0 1 0 1.8 0a0.9 0.9 0 1 0 -1.8 0 M123.3 61.3m-0.9 0a0.9 0.9 0 1 0 1.8 0a0.9 0.9 0 1 0 -1.8 0 M123.3 66.3m-0.9 0a0.9 0.9 0 1 0 1.8 0a0.9 0.9 0 1 0 -1.8 0 M123.2 71.2m-0.9 0a0.9 0.9 0 1 0 1.8 0a0.9 0.9 0 1 0 -1.8 0 M123.3 76.4m-0.9 0a0.9 0.9 0 1 0 1.8 0a0.9 0.9 0 1 0 -1.8 0 M123.3 81.3m-0.9 0a0.9 0.9 0 1 0 1.8 0a0.9 0.9 0 1 0 -1.8 0 M123.3 86.3m-0.9 0a0.9 0.9 0 1 0 1.8 0a0.9 0.9 0 1 0 -1.8 0 M123.2 91.2m-0.9 0a0.9 0.9 0 1 0 1.8 0a0.9 0.9 0 1 0 -1.8 0 M128.2 56.3m-0.9 0a0.9 0.9 0 1 0 1.8 0a0.9 0.9 0 1 0 -1.8 0 M128.1 61.2m-0.9 0a0.9 0.9 0 1 0 1.8 0a0.9 0.9 0 1 0 -1.8 0 M128.3 66.3m-0.9 0a0.9 0.9 0 1 0 1.8 0a0.9 0.9 0 1 0 -1.8 0 M128.2 71.3m-0.9 0a0.9 0.9 0 1 0 1.8 0a0.9 0.9 0 1 0 -1.8 0 M128.2 76.2m-0.9 0a0.9 0.9 0 1 0 1.8 0a0.9 0.9 0 1 0 -1.8 0 M128.1 81.2m-0.9 0a0.9 0.9 0 1 0 1.8 0a0.9 0.9 0 1 0 -1.8 0 M128.2 86.3m-0.9 0a0.9 0.9 0 1 0 1.8 0a0.9 0.9 0 1 0 -1.8 0 M128.4 91.2m-0.9 0a0.9 0.9 0 1 0 1.8 0a0.9 0.9 0 1 0 -1.8 0 M133.4 51.2m-0.9 0a0.9 0.9 0 1 0 1.8 0a0.9 0.9 0 1 0 -1.8 0 M133.1 56.3m-0.9 0a0.9 0.9 0 1 0 1.8 0a0.9 0.9 0 1 0 -1.8 0 M133.2 61.3m-0.9 0a0.9 0.9 0 1 0 1.8 0a0.9 0.9 0 1 0 -1.8 0 M133.1 66.2m-0.9 0a0.9 0.9 0 1 0 1.8 0a0.9 0.9 0 1 0 -1.8 0 M133.1 71.2m-0.9 0a0.9 0.9 0 1 0 1.8 0a0.9 0.9 0 1 0 -1.8 0 M133.2 76.3m-0.9 0a0.9 0.9 0 1 0 1.8 0a0.9 0.9 0 1 0 -1.8 0 M133.2 81.3m-0.9 0a0.9 0.9 0 1 0 1.8 0a0.9 0.9 0 1 0 -1.8 0 M133.1 86.2m-0.9 0a0.9 0.9 0 1 0 1.8 0a0.9 0.9 0 1 0 -1.8 0 M138.1 51.2m-0.9 0a0.9 0.9 0 1 0 1.8 0a0.9 0.9 0 1 0 -1.8 0 M138.0 56.2m-0.9 0a0.9 0.9 0 1 0 1.8 0a0.9 0.9 0 1 0 -1.8 0 M138.1 61.3m-0.9 0a0.9 0.9 0 1 0 1.8 0a0.9 0.9 0 1 0 -1.8 0 M138.2 66.4m-0.9 0a0.9 0.9 0 1 0 1.8 0a0.9 0.9 0 1 0 -1.8 0 M138.1 71.3m-0.9 0a0.9 0.9 0 1 0 1.8 0a0.9 0.9 0 1 0 -1.8 0 M138.1 76.2m-0.9 0a0.9 0.9 0 1 0 1.8 0a0.9 0.9 0 1 0 -1.8 0 M138.1 81.3m-0.9 0a0.9 0.9 0 1 0 1.8 0a0.9 0.9 0 1 0 -1.8 0 M138.3 86.1m-0.9 0a0.9 0.9 0 1 0 1.8 0a0.9 0.9 0 1 0 -1.8 0 M143.1 46.3m-0.9 0a0.9 0.9 0 1 0 1.8 0a0.9 0.9 0 1 0 -1.8 0 M143.1 51.3m-0.9 0a0.9 0.9 0 1 0 1.8 0a0.9 0.9 0 1 0 -1.8 0 M143.1 56.3m-0.9 0a0.9 0.9 0 1 0 1.8 0a0.9 0.9 0 1 0 -1.8 0 M143.0 61.1m-0.9 0a0.9 0.9 0 1 0 1.8 0a0.9 0.9 0 1 0 -1.8 0 M143.1 66.3m-0.9 0a0.9 0.9 0 1 0 1.8 0a0.9 0.9 0 1 0 -1.8 0 M143.2 71.4m-0.9 0a0.9 0.9 0 1 0 1.8 0a0.9 0.9 0 1 0 -1.8 0 M143.0 76.1m-0.9 0a0.9 0.9 0 1 0 1.8 0a0.9 0.9 0 1 0 -1.8 0 M143.0 81.2m-0.9 0a0.9 0.9 0 1 0 1.8 0a0.9 0.9 0 1 0 -1.8 0 M147.9 46.1m-0.9 0a0.9 0.9 0 1 0 1.8 0a0.9 0.9 0 1 0 -1.8 0 M148.0 51.3m-0.9 0a0.9 0.9 0 1 0 1.8 0a0.9 0.9 0 1 0 -1.8 0 M147.9 56.1m-0.9 0a0.9 0.9 0 1 0 1.8 0a0.9 0.9 0 1 0 -1.8 0 M147.9 61.1m-0.9 0a0.9 0.9 0 1 0 1.8 0a0.9 0.9 0 1 0 -1.8 0 M148.1 66.3m-0.9 0a0.9 0.9 0 1 0 1.8 0a0.9 0.9 0 1 0 -1.8 0 M148.0 71.2m-0.9 0a0.9 0.9 0 1 0 1.8 0a0.9 0.9 0 1 0 -1.8 0 M147.9 76.2m-0.9 0a0.9 0.9 0 1 0 1.8 0a0.9 0.9 0 1 0 -1.8 0 M148.2 81.1m-0.9 0a0.9 0.9 0 1 0 1.8 0a0.9 0.9 0 1 0 -1.8 0 M152.9 41.3m-0.9 0a0.9 0.9 0 1 0 1.8 0a0.9 0.9 0 1 0 -1.8 0 M153.0 46.3m-0.9 0a0.9 0.9 0 1 0 1.8 0a0.9 0.9 0 1 0 -1.8 0 M153.0 51.3m-0.9 0a0.9 0.9 0 1 0 1.8 0a0.9 0.9 0 1 0 -1.8 0 M153.0 56.3m-0.9 0a0.9 0.9 0 1 0 1.8 0a0.9 0.9 0 1 0 -1.8 0 M153.0 61.4m-0.9 0a0.9 0.9 0 1 0 1.8 0a0.9 0.9 0 1 0 -1.8 0 M152.9 66.2m-0.9 0a0.9 0.9 0 1 0 1.8 0a0.9 0.9 0 1 0 -1.8 0 M153.0 71.3m-0.9 0a0.9 0.9 0 1 0 1.8 0a0.9 0.9 0 1 0 -1.8 0 M152.9 76.2m-0.9 0a0.9 0.9 0 1 0 1.8 0a0.9 0.9 0 1 0 -1.8 0 M158.0 36.4m-0.9 0a0.9 0.9 0 1 0 1.8 0a0.9 0.9 0 1 0 -1.8 0 M157.8 41.2m-0.9 0a0.9 0.9 0 1 0 1.8 0a0.9 0.9 0 1 0 -1.8 0 M157.9 46.2m-0.9 0a0.9 0.9 0 1 0 1.8 0a0.9 0.9 0 1 0 -1.8 0 M157.8 51.1m-0.9 0a0.9 0.9 0 1 0 1.8 0a0.9 0.9 0 1 0 -1.8 0 M157.8 56.2m-0.9 0a0.9 0.9 0 1 0 1.8 0a0.9 0.9 0 1 0 -1.8 0 M157.8 61.2m-0.9 0a0.9 0.9 0 1 0 1.8 0a0.9 0.9 0 1 0 -1.8 0 M157.9 66.2m-0.9 0a0.9 0.9 0 1 0 1.8 0a0.9 0.9 0 1 0 -1.8 0 M158.0 71.4m-0.9 0a0.9 0.9 0 1 0 1.8 0a0.9 0.9 0 1 0 -1.8 0 M162.8 36.1m-0.9 0a0.9 0.9 0 1 0 1.8 0a0.9 0.9 0 1 0 -1.8 0 M162.9 41.3m-0.9 0a0.9 0.9 0 1 0 1.8 0a0.9 0.9 0 1 0 -1.8 0 M162.9 46.3m-0.9 0a0.9 0.9 0 1 0 1.8 0a0.9 0.9 0 1 0 -1.8 0 M162.8 51.2m-0.9 0a0.9 0.9 0 1 0 1.8 0a0.9 0.9 0 1 0 -1.8 0 M162.8 56.3m-0.9 0a0.9 0.9 0 1 0 1.8 0a0.9 0.9 0 1 0 -1.8 0 M162.9 61.3m-0.9 0a0.9 0.9 0 1 0 1.8 0a0.9 0.9 0 1 0 -1.8 0 M162.8 66.1m-0.9 0a0.9 0.9 0 1 0 1.8 0a0.9 0.9 0 1 0 -1.8 0 M162.8 71.2m-0.9 0a0.9 0.9 0 1 0 1.8 0a0.9 0.9 0 1 0 -1.8 0 M167.7 31.0m-0.9 0a0.9 0.9 0 1 0 1.8 0a0.9 0.9 0 1 0 -1.8 0 M167.7 36.1m-0.9 0a0.9 0.9 0 1 0 1.8 0a0.9 0.9 0 1 0 -1.8 0 M167.7 41.0m-0.9 0a0.9 0.9 0 1 0 1.8 0a0.9 0.9 0 1 0 -1.8 0 M167.8 46.2m-0.9 0a0.9 0.9 0 1 0 1.8 0a0.9 0.9 0 1 0 -1.8 0 M167.8 51.2m-0.9 0a0.9 0.9 0 1 0 1.8 0a0.9 0.9 0 1 0 -1.8 0 M167.8 56.3m-0.9 0a0.9 0.9 0 1 0 1.8 0a0.9 0.9 0 1 0 -1.8 0 M167.9 61.3m-0.9 0a0.9 0.9 0 1 0 1.8 0a0.9 0.9 0 1 0 -1.8 0 M167.8 66.3m-0.9 0a0.9 0.9 0 1 0 1.8 0a0.9 0.9 0 1 0 -1.8 0 M172.5 30.8m-0.9 0a0.9 0.9 0 1 0 1.8 0a0.9 0.9 0 1 0 -1.8 0 M172.6 36.0m-0.9 0a0.9 0.9 0 1 0 1.8 0a0.9 0.9 0 1 0 -1.8 0 M172.6 40.9m-0.9 0a0.9 0.9 0 1 0 1.8 0a0.9 0.9 0 1 0 -1.8 0 M172.6 46.0m-0.9 0a0.9 0.9 0 1 0 1.8 0a0.9 0.9 0 1 0 -1.8 0 M172.6 51.1m-0.9 0a0.9 0.9 0 1 0 1.8 0a0.9 0.9 0 1 0 -1.8 0 M172.7 56.1m-0.9 0a0.9 0.9 0 1 0 1.8 0a0.9 0.9 0 1 0 -1.8 0 M172.9 61.4m-0.9 0a0.9 0.9 0 1 0 1.8 0a0.9 0.9 0 1 0 -1.8 0 M172.7 66.2m-0.9 0a0.9 0.9 0 1 0 1.8 0a0.9 0.9 0 1 0 -1.8 0 M177.5 30.6m-0.9 0a0.9 0.9 0 1 0 1.8 0a0.9 0.9 0 1 0 -1.8 0 M177.5 35.9m-0.9 0a0.9 0.9 0 1 0 1.8 0a0.9 0.9 0 1 0 -1.8 0 M177.5 40.9m-0.9 0a0.9 0.9 0 1 0 1.8 0a0.9 0.9 0 1 0 -1.8 0 M177.6 46.0m-0.9 0a0.9 0.9 0 1 0 1.8 0a0.9 0.9 0 1 0 -1.8 0 M177.6 51.0m-0.9 0a0.9 0.9 0 1 0 1.8 0a0.9 0.9 0 1 0 -1.8 0 M177.6 56.1m-0.9 0a0.9 0.9 0 1 0 1.8 0a0.9 0.9 0 1 0 -1.8 0 M177.6 61.2m-0.9 0a0.9 0.9 0 1 0 1.8 0a0.9 0.9 0 1 0 -1.8 0 M182.4 30.5m-0.9 0a0.9 0.9 0 1 0 1.8 0a0.9 0.9 0 1 0 -1.8 0 M182.4 35.8m-0.9 0a0.9 0.9 0 1 0 1.8 0a0.9 0.9 0 1 0 -1.8 0 M182.5 40.9m-0.9 0a0.9 0.9 0 1 0 1.8 0a0.9 0.9 0 1 0 -1.8 0 M182.5 45.9m-0.9 0a0.9 0.9 0 1 0 1.8 0a0.9 0.9 0 1 0 -1.8 0 M182.5 51.0m-0.9 0a0.9 0.9 0 1 0 1.8 0a0.9 0.9 0 1 0 -1.8 0 M182.5 56.1m-0.9 0a0.9 0.9 0 1 0 1.8 0a0.9 0.9 0 1 0 -1.8 0 M182.5 60.9m-0.9 0a0.9 0.9 0 1 0 1.8 0a0.9 0.9 0 1 0 -1.8 0 M187.6 25.4m-0.9 0a0.9 0.9 0 1 0 1.8 0a0.9 0.9 0 1 0 -1.8 0 M187.5 30.6m-0.9 0a0.9 0.9 0 1 0 1.8 0a0.9 0.9 0 1 0 -1.8 0 M187.5 35.5m-0.9 0a0.9 0.9 0 1 0 1.8 0a0.9 0.9 0 1 0 -1.8 0 M187.5 40.6m-0.9 0a0.9 0.9 0 1 0 1.8 0a0.9 0.9 0 1 0 -1.8 0 M187.5 45.7m-0.9 0a0.9 0.9 0 1 0 1.8 0a0.9 0.9 0 1 0 -1.8 0 M187.6 50.8m-0.9 0a0.9 0.9 0 1 0 1.8 0a0.9 0.9 0 1 0 -1.8 0 M187.6 55.7m-0.9 0a0.9 0.9 0 1 0 1.8 0a0.9 0.9 0 1 0 -1.8 0 M187.6 60.8m-0.9 0a0.9 0.9 0 1 0 1.8 0a0.9 0.9 0 1 0 -1.8 0 M192.5 25.5m-0.9 0a0.9 0.9 0 1 0 1.8 0a0.9 0.9 0 1 0 -1.8 0 M192.5 30.6m-0.9 0a0.9 0.9 0 1 0 1.8 0a0.9 0.9 0 1 0 -1.8 0 M192.5 35.5m-0.9 0a0.9 0.9 0 1 0 1.8 0a0.9 0.9 0 1 0 -1.8 0 M192.5 40.6m-0.9 0a0.9 0.9 0 1 0 1.8 0a0.9 0.9 0 1 0 -1.8 0 M192.5 45.5m-0.9 0a0.9 0.9 0 1 0 1.8 0a0.9 0.9 0 1 0 -1.8 0 M192.5 50.5m-0.9 0a0.9 0.9 0 1 0 1.8 0a0.9 0.9 0 1 0 -1.8 0 M192.5 55.7m-0.9 0a0.9 0.9 0 1 0 1.8 0a0.9 0.9 0 1 0 -1.8 0 M197.4 25.6m-0.9 0a0.9 0.9 0 1 0 1.8 0a0.9 0.9 0 1 0 -1.8 0 M197.4 30.6m-0.9 0a0.9 0.9 0 1 0 1.8 0a0.9 0.9 0 1 0 -1.8 0 M197.4 35.5m-0.9 0a0.9 0.9 0 1 0 1.8 0a0.9 0.9 0 1 0 -1.8 0 M197.4 40.5m-0.9 0a0.9 0.9 0 1 0 1.8 0a0.9 0.9 0 1 0 -1.8 0 M197.4 45.4m-0.9 0a0.9 0.9 0 1 0 1.8 0a0.9 0.9 0 1 0 -1.8 0 M197.4 50.5m-0.9 0a0.9 0.9 0 1 0 1.8 0a0.9 0.9 0 1 0 -1.8 0 M197.4 55.5m-0.9 0a0.9 0.9 0 1 0 1.8 0a0.9 0.9 0 1 0 -1.8 0 M202.4 25.5m-0.9 0a0.9 0.9 0 1 0 1.8 0a0.9 0.9 0 1 0 -1.8 0 M202.4 30.5m-0.9 0a0.9 0.9 0 1 0 1.8 0a0.9 0.9 0 1 0 -1.8 0 M202.4 35.5m-0.9 0a0.9 0.9 0 1 0 1.8 0a0.9 0.9 0 1 0 -1.8 0 M202.4 40.5m-0.9 0a0.9 0.9 0 1 0 1.8 0a0.9 0.9 0 1 0 -1.8 0 M202.4 45.4m-0.9 0a0.9 0.9 0 1 0 1.8 0a0.9 0.9 0 1 0 -1.8 0 M202.4 50.5m-0.9 0a0.9 0.9 0 1 0 1.8 0a0.9 0.9 0 1 0 -1.8 0 M202.4 55.4m-0.9 0a0.9 0.9 0 1 0 1.8 0a0.9 0.9 0 1 0 -1.8 0 M207.3 25.5m-0.9 0a0.9 0.9 0 1 0 1.8 0a0.9 0.9 0 1 0 -1.8 0 M207.3 30.6m-0.9 0a0.9 0.9 0 1 0 1.8 0a0.9 0.9 0 1 0 -1.8 0 M207.3 35.5m-0.9 0a0.9 0.9 0 1 0 1.8 0a0.9 0.9 0 1 0 -1.8 0 M207.3 40.4m-0.9 0a0.9 0.9 0 1 0 1.8 0a0.9 0.9 0 1 0 -1.8 0 M207.3 45.6m-0.9 0a0.9 0.9 0 1 0 1.8 0a0.9 0.9 0 1 0 -1.8 0 M207.3 50.5m-0.9 0a0.9 0.9 0 1 0 1.8 0a0.9 0.9 0 1 0 -1.8 0 M207.3 55.5m-0.9 0a0.9 0.9 0 1 0 1.8 0a0.9 0.9 0 1 0 -1.8 0 M212.3 25.4m-0.9 0a0.9 0.9 0 1 0 1.8 0a0.9 0.9 0 1 0 -1.8 0 M212.3 30.4m-0.9 0a0.9 0.9 0 1 0 1.8 0a0.9 0.9 0 1 0 -1.8 0 M212.3 35.5m-0.9 0a0.9 0.9 0 1 0 1.8 0a0.9 0.9 0 1 0 -1.8 0 M212.3 40.4m-0.9 0a0.9 0.9 0 1 0 1.8 0a0.9 0.9 0 1 0 -1.8 0 M212.3 45.4m-0.9 0a0.9 0.9 0 1 0 1.8 0a0.9 0.9 0 1 0 -1.8 0 M212.3 50.6m-0.9 0a0.9 0.9 0 1 0 1.8 0a0.9 0.9 0 1 0 -1.8 0 M212.3 55.5m-0.9 0a0.9 0.9 0 1 0 1.8 0a0.9 0.9 0 1 0 -1.8 0 M217.2 25.6m-0.9 0a0.9 0.9 0 1 0 1.8 0a0.9 0.9 0 1 0 -1.8 0 M217.2 30.4m-0.9 0a0.9 0.9 0 1 0 1.8 0a0.9 0.9 0 1 0 -1.8 0 M217.2 35.5m-0.9 0a0.9 0.9 0 1 0 1.8 0a0.9 0.9 0 1 0 -1.8 0 M217.2 40.4m-0.9 0a0.9 0.9 0 1 0 1.8 0a0.9 0.9 0 1 0 -1.8 0 M217.2 45.4m-0.9 0a0.9 0.9 0 1 0 1.8 0a0.9 0.9 0 1 0 -1.8 0 M217.2 50.5m-0.9 0a0.9 0.9 0 1 0 1.8 0a0.9 0.9 0 1 0 -1.8 0 M217.2 55.4m-0.9 0a0.9 0.9 0 1 0 1.8 0a0.9 0.9 0 1 0 -1.8 0 M222.5 24.8m-0.9 0a0.9 0.9 0 1 0 1.8 0a0.9 0.9 0 1 0 -1.8 0 M222.4 29.9m-0.9 0a0.9 0.9 0 1 0 1.8 0a0.9 0.9 0 1 0 -1.8 0 M222.5 34.8m-0.9 0a0.9 0.9 0 1 0 1.8 0a0.9 0.9 0 1 0 -1.8 0 M222.4 39.9m-0.9 0a0.9 0.9 0 1 0 1.8 0a0.9 0.9 0 1 0 -1.8 0 M222.4 44.9m-0.9 0a0.9 0.9 0 1 0 1.8 0a0.9 0.9 0 1 0 -1.8 0 M222.2 50.4m-0.9 0a0.9 0.9 0 1 0 1.8 0a0.9 0.9 0 1 0 -1.8 0 M222.2 55.6m-0.9 0a0.9 0.9 0 1 0 1.8 0a0.9 0.9 0 1 0 -1.8 0 M227.5 26.3m-0.9 0a0.9 0.9 0 1 0 1.8 0a0.9 0.9 0 1 0 -1.8 0 M227.5 31.3m-0.9 0a0.9 0.9 0 1 0 1.8 0a0.9 0.9 0 1 0 -1.8 0 M227.3 36.1m-0.9 0a0.9 0.9 0 1 0 1.8 0a0.9 0.9 0 1 0 -1.8 0 M227.5 41.3m-0.9 0a0.9 0.9 0 1 0 1.8 0a0.9 0.9 0 1 0 -1.8 0 M227.5 46.3m-0.9 0a0.9 0.9 0 1 0 1.8 0a0.9 0.9 0 1 0 -1.8 0 M227.1 50.4m-0.9 0a0.9 0.9 0 1 0 1.8 0a0.9 0.9 0 1 0 -1.8 0 M227.1 55.6m-0.9 0a0.9 0.9 0 1 0 1.8 0a0.9 0.9 0 1 0 -1.8 0 M232.1 25.4m-0.9 0a0.9 0.9 0 1 0 1.8 0a0.9 0.9 0 1 0 -1.8 0 M232.1 30.5m-0.9 0a0.9 0.9 0 1 0 1.8 0a0.9 0.9 0 1 0 -1.8 0 M232.1 35.4m-0.9 0a0.9 0.9 0 1 0 1.8 0a0.9 0.9 0 1 0 -1.8 0 M232.1 40.4m-0.9 0a0.9 0.9 0 1 0 1.8 0a0.9 0.9 0 1 0 -1.8 0 M232.1 45.5m-0.9 0a0.9 0.9 0 1 0 1.8 0a0.9 0.9 0 1 0 -1.8 0 M232.1 50.4m-0.9 0a0.9 0.9 0 1 0 1.8 0a0.9 0.9 0 1 0 -1.8 0 M232.1 55.6m-0.9 0a0.9 0.9 0 1 0 1.8 0a0.9 0.9 0 1 0 -1.8 0 M237.0 25.4m-0.9 0a0.9 0.9 0 1 0 1.8 0a0.9 0.9 0 1 0 -1.8 0 M237.0 30.5m-0.9 0a0.9 0.9 0 1 0 1.8 0a0.9 0.9 0 1 0 -1.8 0 M237.0 35.4m-0.9 0a0.9 0.9 0 1 0 1.8 0a0.9 0.9 0 1 0 -1.8 0 M237.0 40.6m-0.9 0a0.9 0.9 0 1 0 1.8 0a0.9 0.9 0 1 0 -1.8 0 M237.0 45.4m-0.9 0a0.9 0.9 0 1 0 1.8 0a0.9 0.9 0 1 0 -1.8 0 M237.0 50.4m-0.9 0a0.9 0.9 0 1 0 1.8 0a0.9 0.9 0 1 0 -1.8 0 M237.0 55.6m-0.9 0a0.9 0.9 0 1 0 1.8 0a0.9 0.9 0 1 0 -1.8 0 M242.0 25.5m-0.9 0a0.9 0.9 0 1 0 1.8 0a0.9 0.9 0 1 0 -1.8 0 M242.0 30.5m-0.9 0a0.9 0.9 0 1 0 1.8 0a0.9 0.9 0 1 0 -1.8 0 M242.0 35.4m-0.9 0a0.9 0.9 0 1 0 1.8 0a0.9 0.9 0 1 0 -1.8 0 M242.0 40.6m-0.9 0a0.9 0.9 0 1 0 1.8 0a0.9 0.9 0 1 0 -1.8 0 M242.0 45.6m-0.9 0a0.9 0.9 0 1 0 1.8 0a0.9 0.9 0 1 0 -1.8 0 M242.0 50.6m-0.9 0a0.9 0.9 0 1 0 1.8 0a0.9 0.9 0 1 0 -1.8 0 M242.0 55.5m-0.9 0a0.9 0.9 0 1 0 1.8 0a0.9 0.9 0 1 0 -1.8 0 M247.2 24.7m-0.9 0a0.9 0.9 0 1 0 1.8 0a0.9 0.9 0 1 0 -1.8 0 M247.2 29.8m-0.9 0a0.9 0.9 0 1 0 1.8 0a0.9 0.9 0 1 0 -1.8 0 M247.2 34.8m-0.9 0a0.9 0.9 0 1 0 1.8 0a0.9 0.9 0 1 0 -1.8 0 M247.2 39.8m-0.9 0a0.9 0.9 0 1 0 1.8 0a0.9 0.9 0 1 0 -1.8 0 M247.2 44.8m-0.9 0a0.9 0.9 0 1 0 1.8 0a0.9 0.9 0 1 0 -1.8 0 M246.9 50.5m-0.9 0a0.9 0.9 0 1 0 1.8 0a0.9 0.9 0 1 0 -1.8 0 M246.9 55.6m-0.9 0a0.9 0.9 0 1 0 1.8 0a0.9 0.9 0 1 0 -1.8 0 M252.1 26.2m-0.9 0a0.9 0.9 0 1 0 1.8 0a0.9 0.9 0 1 0 -1.8 0 M252.1 31.1m-0.9 0a0.9 0.9 0 1 0 1.8 0a0.9 0.9 0 1 0 -1.8 0 M252.2 36.2m-0.9 0a0.9 0.9 0 1 0 1.8 0a0.9 0.9 0 1 0 -1.8 0 M252.1 41.2m-0.9 0a0.9 0.9 0 1 0 1.8 0a0.9 0.9 0 1 0 -1.8 0 M252.2 46.3m-0.9 0a0.9 0.9 0 1 0 1.8 0a0.9 0.9 0 1 0 -1.8 0 M251.9 50.4m-0.9 0a0.9 0.9 0 1 0 1.8 0a0.9 0.9 0 1 0 -1.8 0 M251.9 55.4m-0.9 0a0.9 0.9 0 1 0 1.8 0a0.9 0.9 0 1 0 -1.8 0 M256.8 25.5m-0.9 0a0.9 0.9 0 1 0 1.8 0a0.9 0.9 0 1 0 -1.8 0 M256.8 30.5m-0.9 0a0.9 0.9 0 1 0 1.8 0a0.9 0.9 0 1 0 -1.8 0 M256.8 35.5m-0.9 0a0.9 0.9 0 1 0 1.8 0a0.9 0.9 0 1 0 -1.8 0 M256.8 40.5m-0.9 0a0.9 0.9 0 1 0 1.8 0a0.9 0.9 0 1 0 -1.8 0 M256.8 45.4m-0.9 0a0.9 0.9 0 1 0 1.8 0a0.9 0.9 0 1 0 -1.8 0 M256.8 50.6m-0.9 0a0.9 0.9 0 1 0 1.8 0a0.9 0.9 0 1 0 -1.8 0 M256.8 55.6m-0.9 0a0.9 0.9 0 1 0 1.8 0a0.9 0.9 0 1 0 -1.8 0 M261.8 25.4m-0.9 0a0.9 0.9 0 1 0 1.8 0a0.9 0.9 0 1 0 -1.8 0 M261.8 30.4m-0.9 0a0.9 0.9 0 1 0 1.8 0a0.9 0.9 0 1 0 -1.8 0 M261.8 35.5m-0.9 0a0.9 0.9 0 1 0 1.8 0a0.9 0.9 0 1 0 -1.8 0 M261.8 40.5m-0.9 0a0.9 0.9 0 1 0 1.8 0a0.9 0.9 0 1 0 -1.8 0 M261.8 45.4m-0.9 0a0.9 0.9 0 1 0 1.8 0a0.9 0.9 0 1 0 -1.8 0 M261.8 50.6m-0.9 0a0.9 0.9 0 1 0 1.8 0a0.9 0.9 0 1 0 -1.8 0 M261.8 55.6m-0.9 0a0.9 0.9 0 1 0 1.8 0a0.9 0.9 0 1 0 -1.8 0 M266.7 25.6m-0.9 0a0.9 0.9 0 1 0 1.8 0a0.9 0.9 0 1 0 -1.8 0 M266.7 30.5m-0.9 0a0.9 0.9 0 1 0 1.8 0a0.9 0.9 0 1 0 -1.8 0 M266.7 35.6m-0.9 0a0.9 0.9 0 1 0 1.8 0a0.9 0.9 0 1 0 -1.8 0 M266.7 40.6m-0.9 0a0.9 0.9 0 1 0 1.8 0a0.9 0.9 0 1 0 -1.8 0 M266.7 45.4m-0.9 0a0.9 0.9 0 1 0 1.8 0a0.9 0.9 0 1 0 -1.8 0 M266.7 50.4m-0.9 0a0.9 0.9 0 1 0 1.8 0a0.9 0.9 0 1 0 -1.8 0 M266.7 55.6m-0.9 0a0.9 0.9 0 1 0 1.8 0a0.9 0.9 0 1 0 -1.8 0 M271.7 25.4m-0.9 0a0.9 0.9 0 1 0 1.8 0a0.9 0.9 0 1 0 -1.8 0 M271.7 30.5m-0.9 0a0.9 0.9 0 1 0 1.8 0a0.9 0.9 0 1 0 -1.8 0 M271.7 35.4m-0.9 0a0.9 0.9 0 1 0 1.8 0a0.9 0.9 0 1 0 -1.8 0 M271.7 40.5m-0.9 0a0.9 0.9 0 1 0 1.8 0a0.9 0.9 0 1 0 -1.8 0 M271.7 45.6m-0.9 0a0.9 0.9 0 1 0 1.8 0a0.9 0.9 0 1 0 -1.8 0 M271.7 50.6m-0.9 0a0.9 0.9 0 1 0 1.8 0a0.9 0.9 0 1 0 -1.8 0 M271.7 55.6m-0.9 0a0.9 0.9 0 1 0 1.8 0a0.9 0.9 0 1 0 -1.8 0 M276.6 25.5m-0.9 0a0.9 0.9 0 1 0 1.8 0a0.9 0.9 0 1 0 -1.8 0 M276.6 30.5m-0.9 0a0.9 0.9 0 1 0 1.8 0a0.9 0.9 0 1 0 -1.8 0 M276.6 35.6m-0.9 0a0.9 0.9 0 1 0 1.8 0a0.9 0.9 0 1 0 -1.8 0 M276.6 40.5m-0.9 0a0.9 0.9 0 1 0 1.8 0a0.9 0.9 0 1 0 -1.8 0 M276.6 45.5m-0.9 0a0.9 0.9 0 1 0 1.8 0a0.9 0.9 0 1 0 -1.8 0 M276.6 50.4m-0.9 0a0.9 0.9 0 1 0 1.8 0a0.9 0.9 0 1 0 -1.8 0 M276.6 55.6m-0.9 0a0.9 0.9 0 1 0 1.8 0a0.9 0.9 0 1 0 -1.8 0 M281.6 25.4m-0.9 0a0.9 0.9 0 1 0 1.8 0a0.9 0.9 0 1 0 -1.8 0 M281.6 30.5m-0.9 0a0.9 0.9 0 1 0 1.8 0a0.9 0.9 0 1 0 -1.8 0 M281.6 35.5m-0.9 0a0.9 0.9 0 1 0 1.8 0a0.9 0.9 0 1 0 -1.8 0 M281.6 40.5m-0.9 0a0.9 0.9 0 1 0 1.8 0a0.9 0.9 0 1 0 -1.8 0 M281.6 45.4m-0.9 0a0.9 0.9 0 1 0 1.8 0a0.9 0.9 0 1 0 -1.8 0 M281.6 50.4m-0.9 0a0.9 0.9 0 1 0 1.8 0a0.9 0.9 0 1 0 -1.8 0 M281.6 55.5m-0.9 0a0.9 0.9 0 1 0 1.8 0a0.9 0.9 0 1 0 -1.8 0" fill="#120606"/></g></g>
<rect x="34" y="5.5" width="247.5" height="150" fill="none" stroke="#111" stroke-width="1"/>
<path d="M34 5.5h2.5M281.5 5.5h-2.5M34 30.5h2.5M281.5 30.5h-2.5M34 55.5h2.5M281.5 55.5h-2.5M34 80.5h2.5M281.5 80.5h-2.5M34 105.5h2.5M281.5 105.5h-2.5M34 130.5h2.5M281.5 130.5h-2.5M34 155.5h2.5M281.5 155.5h-2.5M34.0 155.5v-2.5M34.0 5.5v2.5M83.5 155.5v-2.5M83.5 5.5v2.5M133.0 155.5v-2.5M133.0 5.5v2.5M182.5 155.5v-2.5M182.5 5.5v2.5M232.0 155.5v-2.5M232.0 5.5v2.5M281.5 155.5v-2.5M281.5 5.5v2.5" stroke="#111" stroke-width="1" fill="none"/>
<clipPath id="bc2"><polygon points="20.0,258.3 200.0,258.3 207.0,259.8 213.0,261.3 219.0,259.3 226.0,258.6 300.0,258.6 300.0,361.8 192.0,361.8 186.0,359.5 181.0,356.5 177.0,352.5 173.5,348.0 170.0,344.0 166.0,341.0 160.0,340.3 125.0,339.5 112.0,340.5 100.0,342.0 90.0,346.0 80.0,348.5 60.0,349.5 20.0,349.5"/></clipPath>
<g clip-path="url(#c2)"><g filter="url(#cm)">
<linearGradient id="tg" x1="0" y1="215" x2="0" y2="262.5" gradientUnits="userSpaceOnUse"><stop offset="0" stop-color="rgb(4,4,4)"/><stop offset="0.467" stop-color="rgb(13,13,13)"/><stop offset="0.69" stop-color="rgb(38,38,38)"/><stop offset="0.82" stop-color="rgb(57,57,57)"/><stop offset="0.95" stop-color="rgb(70,70,70)"/><stop offset="1" stop-color="rgb(77,77,77)"/></linearGradient>
<linearGradient id="bg" x1="0" y1="0" x2="0" y2="1"><stop offset="0" stop-color="rgb(56,56,56)"/><stop offset="0.12" stop-color="rgb(38,38,38)"/><stop offset="0.35" stop-color="rgb(20,20,20)"/><stop offset="1" stop-color="rgb(13,13,13)"/></linearGradient>
<rect x="20" y="215" width="290" height="47.5" fill="url(#tg)"/>
<rect x="20" y="336" width="290" height="90" fill="url(#bg)"/>
<g filter="url(#b1)"><g clip-path="url(#bc2)"><polygon points="20.0,258.3 200.0,258.3 207.0,259.8 213.0,261.3 219.0,259.3 226.0,258.6 300.0,258.6 300.0,361.8 192.0,361.8 186.0,359.5 181.0,356.5 177.0,352.5 173.5,348.0 170.0,344.0 166.0,341.0 160.0,340.3 125.0,339.5 112.0,340.5 100.0,342.0 90.0,346.0 80.0,348.5 60.0,349.5 20.0,349.5" fill="rgb(100,100,100)" stroke="rgb(89,89,89)" stroke-width="14"/></g></g>
<g filter="url(#b5)">
<polygon points="20.0,270.0 176.0,270.0 188.0,283.0 190.0,300.0 186.0,326.0 172.0,333.0 100.0,333.0 80.0,338.0 20.0,340.0" fill="rgb(122,122,122)"/>
<polygon points="20.0,281.0 170.0,281.0 180.0,292.0 176.0,306.0 162.0,318.0 140.0,326.0 100.0,328.0 20.0,331.0" fill="rgb(132,132,132)"/>
<ellipse cx="56" cy="292" rx="15" ry="8" fill="rgb(113,113,113)"/>
<ellipse cx="36" cy="283" rx="7" ry="16" fill="rgb(109,109,109)"/>
<ellipse cx="48" cy="292" rx="10" ry="6" fill="rgb(113,113,113)"/>
<ellipse cx="140" cy="318" rx="15" ry="6" fill="rgb(131,131,131)"/>
<ellipse cx="40" cy="313" rx="8" ry="9" fill="rgb(177,177,177)"/>
<ellipse cx="112" cy="281" rx="22" ry="6" fill="rgb(167,167,167)"/>
<ellipse cx="78" cy="318" rx="14" ry="5" fill="rgb(159,159,159)"/>
<ellipse cx="150" cy="296" rx="14" ry="7" fill="rgb(156,156,156)"/>
<ellipse cx="242" cy="316" rx="34" ry="18" fill="rgb(112,112,112)"/>
<ellipse cx="196" cy="300" rx="9" ry="30" fill="rgb(120,120,120)"/>
</g>
<ellipse cx="122" cy="353" rx="16" ry="6" fill="rgb(6,6,6)" filter="url(#b5)"/>
</g></g>
<g clip-path="url(#c2)" filter="url(#ab)" opacity="0.92"><path d="M34.5 259.5L27.7 259.6 M46.8 259.5L39.6 259.5 M59.1 259.5L52.3 259.6 M71.5 259.5L65.0 259.5 M83.8 259.5L76.9 259.8 M96.1 259.5L89.7 259.3 M108.4 259.5L102.0 259.8 M120.7 259.5L113.8 259.1 M133.1 259.5L125.8 260.0 M145.4 259.5L138.4 259.6 M157.7 259.5L151.3 259.1 M170.0 259.5L163.2 259.1 M182.3 259.5L175.9 259.3 M194.7 259.5L188.5 258.0 M207.0 259.5L200.4 257.9 M219.3 259.5L212.8 261.6 M231.6 259.5L224.8 259.7 M243.9 259.5L237.2 259.3 M256.3 259.5L249.0 260.0 M268.6 259.5L261.4 259.7 M280.9 259.5L274.3 259.3 M34.5 271.9L21.8 269.6 M59.1 271.9L44.9 270.1 M71.5 271.9L57.0 270.1 M83.8 271.9L68.9 271.2 M96.1 271.9L84.2 270.0 M108.4 271.9L93.8 270.2 M120.7 271.9L105.9 270.0 M133.1 271.9L120.9 270.9 M145.4 271.9L131.2 269.8 M157.7 271.9L145.5 270.2 M170.0 271.9L155.2 271.0 M182.3 271.9L171.5 271.0 M194.7 271.9L185.0 266.6 M207.0 271.9L197.7 265.9 M219.3 271.9L210.1 275.8 M231.6 271.9L221.4 271.2 M243.9 271.9L234.1 271.4 M256.3 271.9L246.8 272.6 M268.6 271.9L258.0 271.5 M280.9 271.9L270.1 271.3 M34.5 284.2L21.3 283.6 M46.8 284.2L33.1 281.8 M59.1 284.2L44.4 281.9 M71.5 284.2L58.7 283.5 M83.8 284.2L70.9 282.4 M96.1 284.2L84.1 282.1 M108.4 284.2L94.8 282.2 M120.7 284.2L107.0 282.5 M133.1 284.2L119.7 283.9 M145.4 284.2L132.0 283.0 M157.7 284.2L143.3 281.9 M170.0 284.2L157.6 283.8 M182.3 284.2L169.4 283.2 M194.7 284.2L184.8 279.3 M207.0 284.2L197.2 279.1 M219.3 284.2L210.1 288.1 M231.6 284.2L222.6 284.9 M243.9 284.2L234.5 284.5 M256.3 284.2L246.8 284.7 M268.6 284.2L258.4 283.8 M280.9 284.2L271.6 284.6 M34.5 296.5L22.4 294.7 M46.8 296.5L33.2 295.9 M59.1 296.5L45.4 294.6 M71.5 296.5L56.9 294.2 M83.8 296.5L71.9 294.8 M96.1 296.5L83.0 294.1 M108.4 296.5L96.0 294.9 M120.7 296.5L107.2 294.2 M133.1 296.5L120.0 296.1 M145.4 296.5L130.5 295.4 M157.7 296.5L143.7 295.3 M170.0 296.5L157.8 294.2 M182.3 296.5L171.9 297.9 M194.7 296.5L186.0 289.8 M207.0 296.5L197.4 291.2 M219.3 296.5L210.1 300.4 M231.6 296.5L221.5 297.0 M243.9 296.5L233.1 297.0 M256.3 296.5L245.9 297.1 M268.6 296.5L257.8 296.3 M280.9 296.5L270.6 297.3 M34.5 308.9L19.9 310.2 M59.1 308.9L45.0 311.3 M71.5 308.9L57.9 310.6 M83.8 308.9L70.7 310.4 M96.1 308.9L82.3 309.3 M108.4 308.9L94.8 311.5 M120.7 308.9L106.3 311.0 M133.1 308.9L120.0 310.8 M145.4 308.9L131.7 310.2 M157.7 308.9L143.7 305.1 M170.0 308.9L158.5 305.1 M182.3 308.9L171.7 305.4 M194.7 308.9L185.6 302.6 M207.0 308.9L197.4 303.4 M219.3 308.9L210.7 314.0 M231.6 308.9L221.3 308.8 M243.9 308.9L233.2 308.6 M256.3 308.9L245.9 308.3 M268.6 308.9L258.7 309.4 M280.9 308.9L270.1 309.6 M34.5 321.2L21.4 322.8 M59.1 321.2L46.2 321.8 M71.5 321.2L58.2 323.4 M83.8 321.2L69.4 323.3 M96.1 321.2L81.3 322.2 M108.4 321.2L96.0 322.4 M120.7 321.2L107.9 321.9 M133.1 321.2L119.9 322.9 M145.4 321.2L131.9 322.2 M157.7 321.2L143.9 316.6 M170.0 321.2L158.1 318.4 M182.3 321.2L172.2 318.1 M194.7 321.2L186.0 314.5 M207.0 321.2L198.3 314.5 M219.3 321.2L210.1 325.2 M231.6 321.2L222.5 321.4 M243.9 321.2L234.0 321.4 M256.3 321.2L246.0 321.8 M268.6 321.2L257.7 321.6 M280.9 321.2L271.5 321.2 M34.5 333.6L22.0 333.8 M59.1 333.6L45.9 335.5 M71.5 333.6L58.9 334.4 M83.8 333.6L70.9 335.4 M96.1 333.6L82.6 335.2 M108.4 333.6L94.2 334.8 M120.7 333.6L106.6 336.1 M133.1 333.6L121.0 335.8 M145.4 333.6L131.2 334.1 M157.7 333.6L144.7 330.5 M170.0 333.6L157.2 330.5 M182.3 333.6L175.3 325.1 M194.7 333.6L185.1 328.2 M207.0 333.6L197.4 328.2 M219.3 333.6L210.8 338.8 M231.6 333.6L220.7 333.6 M243.9 333.6L233.4 333.2 M256.3 333.6L245.5 334.2 M268.6 333.6L258.9 332.9 M280.9 333.6L271.0 333.6 M34.5 345.9L27.4 345.9 M46.8 345.9L40.5 346.2 M59.1 345.9L52.8 346.2 M71.5 345.9L65.0 345.8 M83.8 345.9L76.7 345.5 M182.3 345.9L180.4 335.1 M194.7 345.9L184.0 346.3 M207.0 345.9L196.1 345.9 M219.3 345.9L208.4 345.1 M231.6 345.9L222.2 345.9 M243.9 345.9L234.4 346.3 M256.3 345.9L246.0 345.9 M268.6 345.9L257.9 346.0 M280.9 345.9L271.3 345.7 M194.7 358.2L187.5 358.6 M207.0 358.2L200.5 358.6 M219.3 358.2L212.0 358.3 M231.6 358.2L224.8 358.0 M243.9 358.2L237.1 358.2 M256.3 358.2L249.4 357.8 M268.6 358.2L261.3 358.3 M280.9 358.2L274.2 358.5" stroke="#0c0808" stroke-width="1.2" fill="none"/><path d="M27.7 259.6L30.7 258.0L30.8 261.2Z M39.6 259.5L42.6 257.9L42.6 261.1Z M52.3 259.6L55.3 258.0L55.4 261.2Z M65.0 259.5L68.0 257.9L68.0 261.1Z M76.9 259.8L79.8 258.1L79.9 261.3Z M89.7 259.3L92.8 257.8L92.7 261.0Z M102.0 259.8L105.0 258.1L105.1 261.3Z M113.8 259.1L116.9 257.7L116.7 260.9Z M125.8 260.0L128.7 258.2L128.9 261.4Z M138.4 259.6L141.4 258.0L141.5 261.2Z M151.3 259.1L154.4 257.7L154.1 260.9Z M163.2 259.1L166.3 257.7L166.1 260.9Z M175.9 259.3L178.9 257.8L178.8 261.0Z M188.5 258.0L191.8 257.2L191.0 260.3Z M200.4 257.9L203.7 257.1L203.0 260.2Z M212.8 261.6L215.2 259.2L216.2 262.2Z M224.8 259.7L227.8 258.0L227.9 261.2Z M237.2 259.3L240.2 257.8L240.1 261.0Z M249.0 260.0L251.9 258.2L252.1 261.4Z M261.4 259.7L264.4 258.0L264.5 261.2Z M274.3 259.3L277.3 257.8L277.2 261.0Z M21.8 269.6L25.9 268.4L25.2 272.1Z M44.9 270.1L49.0 268.7L48.5 272.5Z M57.0 270.1L61.0 268.6L60.6 272.4Z M68.9 271.2L72.8 269.5L72.6 273.3Z M84.2 270.0L88.3 268.7L87.7 272.5Z M93.8 270.2L97.8 268.8L97.3 272.5Z M105.9 270.0L109.9 268.6L109.5 272.4Z M120.9 270.9L124.8 269.3L124.5 273.1Z M131.2 269.8L135.2 268.5L134.7 272.2Z M145.5 270.2L149.6 268.8L149.1 272.6Z M155.2 271.0L159.1 269.3L158.8 273.1Z M171.5 271.0L175.5 269.4L175.2 273.2Z M185.0 266.6L189.2 266.8L187.4 270.1Z M197.7 265.9L201.9 266.4L199.9 269.6Z M210.1 275.8L212.9 272.6L214.4 276.1Z M221.4 271.2L225.3 269.5L225.0 273.3Z M234.1 271.4L238.0 269.7L237.8 273.5Z M246.8 272.6L250.4 270.4L250.7 274.2Z M258.0 271.5L261.8 269.7L261.7 273.5Z M270.1 271.3L274.0 269.6L273.8 273.4Z M21.3 283.6L25.2 281.9L25.0 285.7Z M33.1 281.8L37.2 280.6L36.5 284.3Z M44.4 281.9L48.4 280.6L47.8 284.4Z M58.7 283.5L62.6 281.8L62.4 285.6Z M70.9 282.4L74.9 281.0L74.4 284.8Z M84.1 282.1L88.1 280.9L87.5 284.6Z M94.8 282.2L98.9 280.8L98.3 284.6Z M107.0 282.5L111.1 281.0L110.6 284.8Z M119.7 283.9L123.5 282.1L123.5 285.9Z M132.0 283.0L135.9 281.4L135.6 285.2Z M143.3 281.9L147.3 280.6L146.7 284.4Z M157.6 283.8L161.4 282.0L161.3 285.8Z M169.4 283.2L173.4 281.6L173.1 285.4Z M184.8 279.3L189.1 279.3L187.4 282.7Z M197.2 279.1L201.5 279.2L199.7 282.6Z M210.1 288.1L212.9 284.9L214.3 288.4Z M222.6 284.9L226.2 282.7L226.5 286.5Z M234.5 284.5L238.2 282.5L238.3 286.3Z M246.8 284.7L250.4 282.6L250.7 286.4Z M258.4 283.8L262.3 282.1L262.1 285.9Z M271.6 284.6L275.3 282.5L275.4 286.3Z M22.4 294.7L26.5 293.4L25.9 297.1Z M33.2 295.9L37.0 294.2L36.9 298.0Z M45.4 294.6L49.5 293.2L48.9 297.0Z M56.9 294.2L60.9 293.0L60.3 296.7Z M71.9 294.8L75.9 293.5L75.3 297.2Z M83.0 294.1L87.1 293.0L86.4 296.7Z M96.0 294.9L100.0 293.5L99.5 297.3Z M107.2 294.2L111.3 293.0L110.6 296.7Z M120.0 296.1L123.8 294.3L123.7 298.1Z M130.5 295.4L134.4 293.8L134.1 297.6Z M143.7 295.3L147.6 293.7L147.3 297.5Z M157.8 294.2L161.9 293.1L161.2 296.8Z M171.9 297.9L175.4 295.5L175.9 299.3Z M186.0 289.8L190.1 290.6L187.8 293.6Z M197.4 291.2L201.6 291.4L199.8 294.7Z M210.1 300.4L212.8 297.2L214.3 300.7Z M221.5 297.0L225.3 294.9L225.4 298.7Z M233.1 297.0L236.9 294.9L237.0 298.7Z M245.9 297.1L249.6 295.0L249.8 298.8Z M257.8 296.3L261.6 294.5L261.5 298.3Z M270.6 297.3L274.2 295.1L274.5 298.9Z M19.9 310.2L23.6 308.0L23.9 311.7Z M45.0 311.3L48.4 308.8L49.0 312.5Z M57.9 310.6L61.4 308.2L61.9 312.0Z M70.7 310.4L74.3 308.1L74.7 311.9Z M82.3 309.3L86.0 307.3L86.1 311.1Z M94.8 311.5L98.1 308.9L98.8 312.7Z M106.3 311.0L109.7 308.6L110.3 312.3Z M120.0 310.8L123.5 308.4L124.1 312.1Z M131.7 310.2L135.3 307.9L135.7 311.7Z M143.7 305.1L147.8 304.3L146.9 307.9Z M158.5 305.1L162.7 304.5L161.6 308.1Z M171.7 305.4L175.9 304.8L174.7 308.4Z M185.6 302.6L189.8 303.2L187.7 306.3Z M197.4 303.4L201.7 303.6L199.8 306.9Z M210.7 314.0L213.0 310.5L215.0 313.7Z M221.3 308.8L225.1 306.9L225.1 310.7Z M233.2 308.6L237.0 306.8L236.9 310.6Z M245.9 308.3L249.8 306.6L249.6 310.4Z M258.7 309.4L262.4 307.3L262.6 311.1Z M270.1 309.6L273.8 307.5L274.0 311.2Z M21.4 322.8L25.0 320.4L25.4 324.2Z M46.2 321.8L49.9 319.7L50.1 323.5Z M58.2 323.4L61.6 320.9L62.2 324.7Z M69.4 323.3L72.9 320.9L73.4 324.6Z M81.3 322.2L84.9 320.1L85.2 323.8Z M96.0 322.4L99.6 320.2L99.9 323.9Z M107.9 321.9L111.6 319.8L111.8 323.6Z M119.9 322.9L123.5 320.5L123.9 324.3Z M131.9 322.2L135.6 320.0L135.9 323.8Z M143.9 316.6L148.1 316.0L146.9 319.6Z M158.1 318.4L162.3 317.4L161.4 321.1Z M172.2 318.1L176.4 317.4L175.3 321.0Z M186.0 314.5L190.1 315.3L187.8 318.3Z M198.3 314.5L202.4 315.3L200.1 318.3Z M210.1 325.2L212.9 321.9L214.4 325.4Z M222.5 321.4L226.3 319.4L226.4 323.2Z M234.0 321.4L237.8 319.5L237.9 323.3Z M246.0 321.8L249.7 319.7L249.9 323.5Z M257.7 321.6L261.4 319.6L261.5 323.3Z M271.5 321.2L275.3 319.3L275.3 323.1Z M22.0 333.8L25.7 331.8L25.8 335.6Z M45.9 335.5L49.4 333.0L49.9 336.8Z M58.9 334.4L62.6 332.2L62.9 336.0Z M70.9 335.4L74.4 333.0L74.9 336.7Z M82.6 335.2L86.2 332.9L86.7 336.7Z M94.2 334.8L97.8 332.6L98.2 336.4Z M106.6 336.1L110.0 333.5L110.7 337.3Z M121.0 335.8L124.4 333.2L125.1 336.9Z M131.2 334.1L134.9 332.1L135.1 335.9Z M144.7 330.5L148.8 329.5L148.0 333.2Z M157.2 330.5L161.4 329.5L160.5 333.2Z M175.3 325.1L179.2 326.8L176.3 329.3Z M185.1 328.2L189.3 328.4L187.5 331.7Z M197.4 328.2L201.6 328.4L199.8 331.7Z M210.8 338.8L213.0 335.2L215.0 338.4Z M220.7 333.6L224.5 331.7L224.5 335.5Z M233.4 333.2L237.2 331.4L237.1 335.2Z M245.5 334.2L249.1 332.1L249.4 335.9Z M258.9 332.9L262.8 331.2L262.6 335.0Z M271.0 333.6L274.8 331.7L274.8 335.5Z M27.4 345.9L30.4 344.3L30.4 347.5Z M40.5 346.2L43.4 344.4L43.6 347.6Z M52.8 346.2L55.7 344.4L55.8 347.6Z M65.0 345.8L68.0 344.2L68.0 347.4Z M76.7 345.5L79.8 344.1L79.6 347.3Z M180.4 335.1L183.0 338.5L179.2 339.1Z M184.0 346.3L187.7 344.2L187.8 348.0Z M196.1 345.9L199.9 344.0L199.9 347.8Z M208.4 345.1L212.4 343.5L212.1 347.3Z M222.2 345.9L226.0 344.0L226.0 347.8Z M234.4 346.3L238.1 344.2L238.2 348.0Z M246.0 345.9L249.8 344.0L249.8 347.8Z M257.9 346.0L261.7 344.1L261.7 347.9Z M271.3 345.7L275.1 343.9L275.0 347.7Z M187.5 358.6L190.4 356.9L190.6 360.1Z M200.5 358.6L203.4 356.8L203.6 360.0Z M212.0 358.3L215.0 356.7L215.0 359.9Z M224.8 358.0L227.8 356.5L227.7 359.7Z M237.1 358.2L240.1 356.6L240.1 359.8Z M249.4 357.8L252.5 356.4L252.3 359.6Z M261.3 358.3L264.3 356.6L264.3 359.8Z M274.2 358.5L277.1 356.8L277.3 360.0Z" fill="#0c0808"/></g>
<rect x="34.5" y="222.5" width="246.5" height="185" fill="none" stroke="#111" stroke-width="1"/>
<path d="M34.5 407.6h2.5M281 407.6h-2.5M34.5 345.9h2.5M281 345.9h-2.5M34.5 284.2h2.5M281 284.2h-2.5M34.5 222.5h2.5M281 222.5h-2.5M34.5 407.5v-2.5M34.5 222.5v2.5M96.1 407.5v-2.5M96.1 222.5v2.5M157.7 407.5v-2.5M157.7 222.5v2.5M219.3 407.5v-2.5M219.3 222.5v2.5M280.9 407.5v-2.5M280.9 222.5v2.5" stroke="#111" stroke-width="1" fill="none"/>
<rect x="299.5" y="5.8" width="8" height="147.8" fill="url(#g1)" stroke="#111" stroke-width="1"/>
<rect x="299.5" y="224" width="8" height="178.3" fill="url(#g2)" stroke="#111" stroke-width="1"/>
<path d="M299.5 19.8h2M307.5 19.8h-2M299.5 39.1h2M307.5 39.1h-2M299.5 58.4h2M307.5 58.4h-2M299.5 77.7h2M307.5 77.7h-2M299.5 97.0h2M307.5 97.0h-2M299.5 116.3h2M307.5 116.3h-2M299.5 135.6h2M307.5 135.6h-2M299.5 228.3h2M307.5 228.3h-2M299.5 253.3h2M307.5 253.3h-2M299.5 278.3h2M307.5 278.3h-2M299.5 303.3h2M307.5 303.3h-2M299.5 328.3h2M307.5 328.3h-2M299.5 353.3h2M307.5 353.3h-2M299.5 378.3h2M307.5 378.3h-2" stroke="#111" stroke-width="1" fill="none"/>
<g filter="url(#tb)"><text x="311.7" y="23.8" font-size="11">3.5</text><text x="311.7" y="43.1" font-size="11">3</text><text x="311.7" y="62.4" font-size="11">2.5</text><text x="311.7" y="81.7" font-size="11">2</text><text x="311.7" y="101.0" font-size="11">1.5</text><text x="311.7" y="120.3" font-size="11">1</text><text x="311.7" y="139.6" font-size="11">0.5</text><text x="311.7" y="232.3" font-size="11">3.5</text><text x="311.7" y="257.3" font-size="11">3</text><text x="311.7" y="282.3" font-size="11">2.5</text><text x="311.7" y="307.3" font-size="11">2</text><text x="311.7" y="332.3" font-size="11">1.5</text><text x="311.7" y="357.3" font-size="11">1</text><text x="311.7" y="382.3" font-size="11">0.5</text><text transform="translate(347 80.0) rotate(-90)" text-anchor="middle" font-size="13"><tspan font-style="italic">J</tspan> (10<tspan dy="-5.5" font-size="10">10</tspan><tspan dy="5.5"> Am</tspan><tspan dy="-5.5" font-size="10">-2</tspan><tspan dy="5.5">)</tspan></text><text transform="translate(347 313.2) rotate(-90)" text-anchor="middle" font-size="13"><tspan font-style="italic">J</tspan> (10<tspan dy="-5.5" font-size="10">10</tspan><tspan dy="5.5"> Am</tspan><tspan dy="-5.5" font-size="10">-2</tspan><tspan dy="5.5">)</tspan></text><text x="29.3" y="9.8" font-size="11" text-anchor="end">3</text><text x="29.3" y="34.8" font-size="11" text-anchor="end">2</text><text x="29.3" y="59.8" font-size="11" text-anchor="end">1</text><text x="29.3" y="84.8" font-size="11" text-anchor="end">0</text><text x="29.3" y="109.8" font-size="11" text-anchor="end">-1</text><text x="29.3" y="134.8" font-size="11" text-anchor="end">-2</text><text x="29.3" y="159.8" font-size="11" text-anchor="end">-3</text><text x="34.6" y="170.2" font-size="11" text-anchor="middle">-26</text><text x="83.5" y="170.2" font-size="11" text-anchor="middle">-24</text><text x="132.5" y="170.2" font-size="11" text-anchor="middle">-22</text><text x="182.1" y="170.2" font-size="11" text-anchor="middle">-20</text><text x="232.7" y="170.2" font-size="11" text-anchor="middle">-18</text><text x="281.8" y="170.2" font-size="11" text-anchor="middle">-16</text><text x="30" y="411.4" font-size="11" text-anchor="end">0</text><text x="30" y="349.7" font-size="11" text-anchor="end">1</text><text x="30" y="288.0" font-size="11" text-anchor="end">2</text><text x="30" y="226.3" font-size="11" text-anchor="end">3</text><text x="34.5" y="423.5" font-size="11" text-anchor="middle">-2</text><text x="95.3" y="423.5" font-size="11" text-anchor="middle">-1</text><text x="158.5" y="423.5" font-size="11" text-anchor="middle">0</text><text x="221.4" y="423.5" font-size="11" text-anchor="middle">1</text><text x="282.7" y="423.5" font-size="11" text-anchor="middle">2</text><text transform="translate(10.9 79.6) rotate(-90)" text-anchor="middle" font-size="12.5"><tspan font-style="italic">y</tspan> (mm)</text><text transform="translate(13.0 315.4) rotate(-90)" text-anchor="middle" font-size="12.5"><tspan font-style="italic">y</tspan> (mm)</text><text x="157" y="187.3" font-size="12.5" text-anchor="middle"><tspan font-style="italic">x</tspan> (mm)</text><text x="158" y="438.8" font-size="12.5" text-anchor="middle"><tspan font-style="italic">x</tspan> (mm)</text><text class="s" x="157.3" y="204.5" font-size="14.5" text-anchor="middle">(a)</text><text class="s" x="158.2" y="457.5" font-size="14.5" text-anchor="middle">(b)</text></g>
</g></svg></body></html>
